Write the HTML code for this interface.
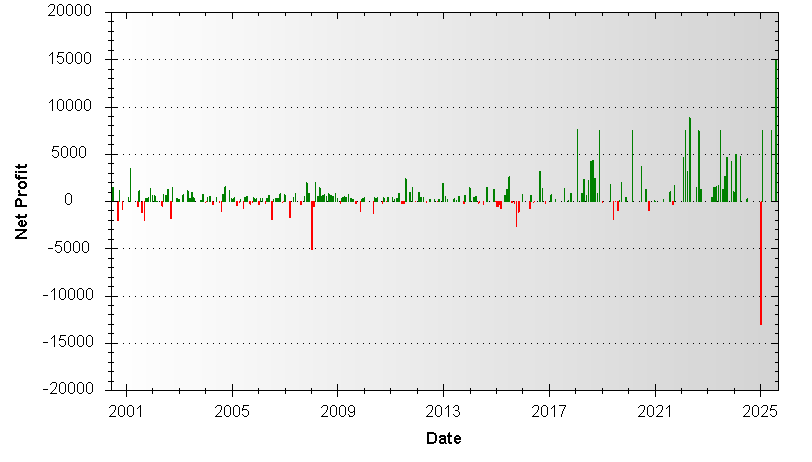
<!DOCTYPE html>
<html><head><meta charset="utf-8"><title>chart</title>
<style>
html,body{margin:0;padding:0;background:#fff;}
body{width:812px;height:462px;position:relative;overflow:hidden;font-family:"Liberation Sans",sans-serif;color:#000;}
svg{position:absolute;left:0;top:0;}
.t{color:transparent;}
.yl{position:absolute;left:39.6px;letter-spacing:0.15px;width:60px;text-align:center;font-size:16px;line-height:18px;height:18px;white-space:nowrap;}
.xl{position:absolute;top:403px;letter-spacing:0.15px;width:60px;text-align:center;font-size:16px;line-height:18px;height:18px;}
.xt{position:absolute;left:414.3px;top:430px;letter-spacing:0.3px;width:60px;text-align:center;font-weight:bold;font-size:16px;line-height:18px;}
.yt{position:absolute;left:-37px;top:194px;letter-spacing:0.45px;width:120px;height:18px;text-align:center;font-weight:bold;font-size:16px;line-height:18px;transform:rotate(-90deg);transform-origin:50% 50%;white-space:nowrap;}
</style></head><body>
<svg width="812" height="462" viewBox="0 0 812 462" shape-rendering="crispEdges">
<rect x="111" y="12" width="7" height="379" fill="rgb(255,255,255)"/>
<rect x="118" y="12" width="14" height="379" fill="rgb(254,254,254)"/>
<rect x="132" y="12" width="14" height="379" fill="rgb(253,253,253)"/>
<rect x="146" y="12" width="14" height="379" fill="rgb(252,252,252)"/>
<rect x="160" y="12" width="14" height="379" fill="rgb(251,251,251)"/>
<rect x="174" y="12" width="28" height="379" fill="rgb(250,250,250)"/>
<rect x="202" y="12" width="14" height="379" fill="rgb(249,249,249)"/>
<rect x="216" y="12" width="14" height="379" fill="rgb(248,248,248)"/>
<rect x="230" y="12" width="14" height="379" fill="rgb(247,247,247)"/>
<rect x="244" y="12" width="13" height="379" fill="rgb(246,246,246)"/>
<rect x="257" y="12" width="14" height="379" fill="rgb(245,245,245)"/>
<rect x="271" y="12" width="14" height="379" fill="rgb(244,244,244)"/>
<rect x="285" y="12" width="14" height="379" fill="rgb(243,243,243)"/>
<rect x="299" y="12" width="14" height="379" fill="rgb(242,242,242)"/>
<rect x="313" y="12" width="14" height="379" fill="rgb(241,241,241)"/>
<rect x="327" y="12" width="14" height="379" fill="rgb(240,240,240)"/>
<rect x="341" y="12" width="14" height="379" fill="rgb(239,239,239)"/>
<rect x="355" y="12" width="28" height="379" fill="rgb(238,238,238)"/>
<rect x="383" y="12" width="13" height="379" fill="rgb(237,237,237)"/>
<rect x="396" y="12" width="14" height="379" fill="rgb(236,236,236)"/>
<rect x="410" y="12" width="14" height="379" fill="rgb(235,235,235)"/>
<rect x="424" y="12" width="14" height="379" fill="rgb(234,234,234)"/>
<rect x="438" y="12" width="14" height="379" fill="rgb(233,233,233)"/>
<rect x="452" y="12" width="14" height="379" fill="rgb(232,232,232)"/>
<rect x="466" y="12" width="14" height="379" fill="rgb(231,231,231)"/>
<rect x="480" y="12" width="14" height="379" fill="rgb(230,230,230)"/>
<rect x="494" y="12" width="14" height="379" fill="rgb(229,229,229)"/>
<rect x="508" y="12" width="27" height="379" fill="rgb(228,228,228)"/>
<rect x="535" y="12" width="14" height="379" fill="rgb(227,227,227)"/>
<rect x="549" y="12" width="14" height="379" fill="rgb(226,226,226)"/>
<rect x="563" y="12" width="14" height="379" fill="rgb(225,225,225)"/>
<rect x="577" y="12" width="14" height="379" fill="rgb(224,224,224)"/>
<rect x="591" y="12" width="14" height="379" fill="rgb(223,223,223)"/>
<rect x="605" y="12" width="14" height="379" fill="rgb(222,222,222)"/>
<rect x="619" y="12" width="14" height="379" fill="rgb(221,221,221)"/>
<rect x="633" y="12" width="14" height="379" fill="rgb(220,220,220)"/>
<rect x="647" y="12" width="13" height="379" fill="rgb(219,219,219)"/>
<rect x="660" y="12" width="14" height="379" fill="rgb(218,218,218)"/>
<rect x="674" y="12" width="14" height="379" fill="rgb(217,217,217)"/>
<rect x="688" y="12" width="28" height="379" fill="rgb(216,216,216)"/>
<rect x="716" y="12" width="14" height="379" fill="rgb(215,215,215)"/>
<rect x="730" y="12" width="14" height="379" fill="rgb(214,214,214)"/>
<rect x="744" y="12" width="14" height="379" fill="rgb(213,213,213)"/>
<rect x="758" y="12" width="14" height="379" fill="rgb(212,212,212)"/>
<rect x="772" y="12" width="7" height="379" fill="rgb(211,211,211)"/>
<rect x="123" y="59" width="1" height="1" fill="#000"/>
<rect x="129" y="59" width="1" height="1" fill="#000"/>
<rect x="135" y="59" width="1" height="1" fill="#000"/>
<rect x="141" y="59" width="1" height="1" fill="#000"/>
<rect x="147" y="59" width="1" height="1" fill="#000"/>
<rect x="153" y="59" width="1" height="1" fill="#000"/>
<rect x="159" y="59" width="1" height="1" fill="#000"/>
<rect x="165" y="59" width="1" height="1" fill="#000"/>
<rect x="171" y="59" width="1" height="1" fill="#000"/>
<rect x="177" y="59" width="1" height="1" fill="#000"/>
<rect x="183" y="59" width="1" height="1" fill="#000"/>
<rect x="189" y="59" width="1" height="1" fill="#000"/>
<rect x="195" y="59" width="1" height="1" fill="#000"/>
<rect x="201" y="59" width="1" height="1" fill="#000"/>
<rect x="207" y="59" width="1" height="1" fill="#000"/>
<rect x="213" y="59" width="1" height="1" fill="#000"/>
<rect x="219" y="59" width="1" height="1" fill="#000"/>
<rect x="225" y="59" width="1" height="1" fill="#000"/>
<rect x="231" y="59" width="1" height="1" fill="#000"/>
<rect x="237" y="59" width="1" height="1" fill="#000"/>
<rect x="243" y="59" width="1" height="1" fill="#000"/>
<rect x="249" y="59" width="1" height="1" fill="#000"/>
<rect x="255" y="59" width="1" height="1" fill="#000"/>
<rect x="261" y="59" width="1" height="1" fill="#000"/>
<rect x="267" y="59" width="1" height="1" fill="#000"/>
<rect x="273" y="59" width="1" height="1" fill="#000"/>
<rect x="279" y="59" width="1" height="1" fill="#000"/>
<rect x="285" y="59" width="1" height="1" fill="#000"/>
<rect x="291" y="59" width="1" height="1" fill="#000"/>
<rect x="297" y="59" width="1" height="1" fill="#000"/>
<rect x="303" y="59" width="1" height="1" fill="#000"/>
<rect x="309" y="59" width="1" height="1" fill="#000"/>
<rect x="315" y="59" width="1" height="1" fill="#000"/>
<rect x="321" y="59" width="1" height="1" fill="#000"/>
<rect x="327" y="59" width="1" height="1" fill="#000"/>
<rect x="333" y="59" width="1" height="1" fill="#000"/>
<rect x="339" y="59" width="1" height="1" fill="#000"/>
<rect x="345" y="59" width="1" height="1" fill="#000"/>
<rect x="351" y="59" width="1" height="1" fill="#000"/>
<rect x="357" y="59" width="1" height="1" fill="#000"/>
<rect x="363" y="59" width="1" height="1" fill="#000"/>
<rect x="369" y="59" width="1" height="1" fill="#000"/>
<rect x="375" y="59" width="1" height="1" fill="#000"/>
<rect x="381" y="59" width="1" height="1" fill="#000"/>
<rect x="387" y="59" width="1" height="1" fill="#000"/>
<rect x="393" y="59" width="1" height="1" fill="#000"/>
<rect x="399" y="59" width="1" height="1" fill="#000"/>
<rect x="405" y="59" width="1" height="1" fill="#000"/>
<rect x="411" y="59" width="1" height="1" fill="#000"/>
<rect x="417" y="59" width="1" height="1" fill="#000"/>
<rect x="423" y="59" width="1" height="1" fill="#000"/>
<rect x="429" y="59" width="1" height="1" fill="#000"/>
<rect x="435" y="59" width="1" height="1" fill="#000"/>
<rect x="441" y="59" width="1" height="1" fill="#000"/>
<rect x="447" y="59" width="1" height="1" fill="#000"/>
<rect x="453" y="59" width="1" height="1" fill="#000"/>
<rect x="459" y="59" width="1" height="1" fill="#000"/>
<rect x="465" y="59" width="1" height="1" fill="#000"/>
<rect x="471" y="59" width="1" height="1" fill="#000"/>
<rect x="477" y="59" width="1" height="1" fill="#000"/>
<rect x="483" y="59" width="1" height="1" fill="#000"/>
<rect x="489" y="59" width="1" height="1" fill="#000"/>
<rect x="495" y="59" width="1" height="1" fill="#000"/>
<rect x="501" y="59" width="1" height="1" fill="#000"/>
<rect x="507" y="59" width="1" height="1" fill="#000"/>
<rect x="513" y="59" width="1" height="1" fill="#000"/>
<rect x="519" y="59" width="1" height="1" fill="#000"/>
<rect x="525" y="59" width="1" height="1" fill="#000"/>
<rect x="531" y="59" width="1" height="1" fill="#000"/>
<rect x="537" y="59" width="1" height="1" fill="#000"/>
<rect x="543" y="59" width="1" height="1" fill="#000"/>
<rect x="549" y="59" width="1" height="1" fill="#000"/>
<rect x="555" y="59" width="1" height="1" fill="#000"/>
<rect x="561" y="59" width="1" height="1" fill="#000"/>
<rect x="567" y="59" width="1" height="1" fill="#000"/>
<rect x="573" y="59" width="1" height="1" fill="#000"/>
<rect x="579" y="59" width="1" height="1" fill="#000"/>
<rect x="585" y="59" width="1" height="1" fill="#000"/>
<rect x="591" y="59" width="1" height="1" fill="#000"/>
<rect x="597" y="59" width="1" height="1" fill="#000"/>
<rect x="603" y="59" width="1" height="1" fill="#000"/>
<rect x="609" y="59" width="1" height="1" fill="#000"/>
<rect x="615" y="59" width="1" height="1" fill="#000"/>
<rect x="621" y="59" width="1" height="1" fill="#000"/>
<rect x="627" y="59" width="1" height="1" fill="#000"/>
<rect x="633" y="59" width="1" height="1" fill="#000"/>
<rect x="639" y="59" width="1" height="1" fill="#000"/>
<rect x="645" y="59" width="1" height="1" fill="#000"/>
<rect x="651" y="59" width="1" height="1" fill="#000"/>
<rect x="657" y="59" width="1" height="1" fill="#000"/>
<rect x="663" y="59" width="1" height="1" fill="#000"/>
<rect x="669" y="59" width="1" height="1" fill="#000"/>
<rect x="675" y="59" width="1" height="1" fill="#000"/>
<rect x="681" y="59" width="1" height="1" fill="#000"/>
<rect x="687" y="59" width="1" height="1" fill="#000"/>
<rect x="693" y="59" width="1" height="1" fill="#000"/>
<rect x="699" y="59" width="1" height="1" fill="#000"/>
<rect x="705" y="59" width="1" height="1" fill="#000"/>
<rect x="711" y="59" width="1" height="1" fill="#000"/>
<rect x="717" y="59" width="1" height="1" fill="#000"/>
<rect x="723" y="59" width="1" height="1" fill="#000"/>
<rect x="729" y="59" width="1" height="1" fill="#000"/>
<rect x="735" y="59" width="1" height="1" fill="#000"/>
<rect x="741" y="59" width="1" height="1" fill="#000"/>
<rect x="747" y="59" width="1" height="1" fill="#000"/>
<rect x="753" y="59" width="1" height="1" fill="#000"/>
<rect x="759" y="59" width="1" height="1" fill="#000"/>
<rect x="765" y="59" width="1" height="1" fill="#000"/>
<rect x="771" y="59" width="1" height="1" fill="#000"/>
<rect x="777" y="59" width="1" height="1" fill="#000"/>
<rect x="123" y="107" width="1" height="1" fill="#000"/>
<rect x="129" y="107" width="1" height="1" fill="#000"/>
<rect x="135" y="107" width="1" height="1" fill="#000"/>
<rect x="141" y="107" width="1" height="1" fill="#000"/>
<rect x="147" y="107" width="1" height="1" fill="#000"/>
<rect x="153" y="107" width="1" height="1" fill="#000"/>
<rect x="159" y="107" width="1" height="1" fill="#000"/>
<rect x="165" y="107" width="1" height="1" fill="#000"/>
<rect x="171" y="107" width="1" height="1" fill="#000"/>
<rect x="177" y="107" width="1" height="1" fill="#000"/>
<rect x="183" y="107" width="1" height="1" fill="#000"/>
<rect x="189" y="107" width="1" height="1" fill="#000"/>
<rect x="195" y="107" width="1" height="1" fill="#000"/>
<rect x="201" y="107" width="1" height="1" fill="#000"/>
<rect x="207" y="107" width="1" height="1" fill="#000"/>
<rect x="213" y="107" width="1" height="1" fill="#000"/>
<rect x="219" y="107" width="1" height="1" fill="#000"/>
<rect x="225" y="107" width="1" height="1" fill="#000"/>
<rect x="231" y="107" width="1" height="1" fill="#000"/>
<rect x="237" y="107" width="1" height="1" fill="#000"/>
<rect x="243" y="107" width="1" height="1" fill="#000"/>
<rect x="249" y="107" width="1" height="1" fill="#000"/>
<rect x="255" y="107" width="1" height="1" fill="#000"/>
<rect x="261" y="107" width="1" height="1" fill="#000"/>
<rect x="267" y="107" width="1" height="1" fill="#000"/>
<rect x="273" y="107" width="1" height="1" fill="#000"/>
<rect x="279" y="107" width="1" height="1" fill="#000"/>
<rect x="285" y="107" width="1" height="1" fill="#000"/>
<rect x="291" y="107" width="1" height="1" fill="#000"/>
<rect x="297" y="107" width="1" height="1" fill="#000"/>
<rect x="303" y="107" width="1" height="1" fill="#000"/>
<rect x="309" y="107" width="1" height="1" fill="#000"/>
<rect x="315" y="107" width="1" height="1" fill="#000"/>
<rect x="321" y="107" width="1" height="1" fill="#000"/>
<rect x="327" y="107" width="1" height="1" fill="#000"/>
<rect x="333" y="107" width="1" height="1" fill="#000"/>
<rect x="339" y="107" width="1" height="1" fill="#000"/>
<rect x="345" y="107" width="1" height="1" fill="#000"/>
<rect x="351" y="107" width="1" height="1" fill="#000"/>
<rect x="357" y="107" width="1" height="1" fill="#000"/>
<rect x="363" y="107" width="1" height="1" fill="#000"/>
<rect x="369" y="107" width="1" height="1" fill="#000"/>
<rect x="375" y="107" width="1" height="1" fill="#000"/>
<rect x="381" y="107" width="1" height="1" fill="#000"/>
<rect x="387" y="107" width="1" height="1" fill="#000"/>
<rect x="393" y="107" width="1" height="1" fill="#000"/>
<rect x="399" y="107" width="1" height="1" fill="#000"/>
<rect x="405" y="107" width="1" height="1" fill="#000"/>
<rect x="411" y="107" width="1" height="1" fill="#000"/>
<rect x="417" y="107" width="1" height="1" fill="#000"/>
<rect x="423" y="107" width="1" height="1" fill="#000"/>
<rect x="429" y="107" width="1" height="1" fill="#000"/>
<rect x="435" y="107" width="1" height="1" fill="#000"/>
<rect x="441" y="107" width="1" height="1" fill="#000"/>
<rect x="447" y="107" width="1" height="1" fill="#000"/>
<rect x="453" y="107" width="1" height="1" fill="#000"/>
<rect x="459" y="107" width="1" height="1" fill="#000"/>
<rect x="465" y="107" width="1" height="1" fill="#000"/>
<rect x="471" y="107" width="1" height="1" fill="#000"/>
<rect x="477" y="107" width="1" height="1" fill="#000"/>
<rect x="483" y="107" width="1" height="1" fill="#000"/>
<rect x="489" y="107" width="1" height="1" fill="#000"/>
<rect x="495" y="107" width="1" height="1" fill="#000"/>
<rect x="501" y="107" width="1" height="1" fill="#000"/>
<rect x="507" y="107" width="1" height="1" fill="#000"/>
<rect x="513" y="107" width="1" height="1" fill="#000"/>
<rect x="519" y="107" width="1" height="1" fill="#000"/>
<rect x="525" y="107" width="1" height="1" fill="#000"/>
<rect x="531" y="107" width="1" height="1" fill="#000"/>
<rect x="537" y="107" width="1" height="1" fill="#000"/>
<rect x="543" y="107" width="1" height="1" fill="#000"/>
<rect x="549" y="107" width="1" height="1" fill="#000"/>
<rect x="555" y="107" width="1" height="1" fill="#000"/>
<rect x="561" y="107" width="1" height="1" fill="#000"/>
<rect x="567" y="107" width="1" height="1" fill="#000"/>
<rect x="573" y="107" width="1" height="1" fill="#000"/>
<rect x="579" y="107" width="1" height="1" fill="#000"/>
<rect x="585" y="107" width="1" height="1" fill="#000"/>
<rect x="591" y="107" width="1" height="1" fill="#000"/>
<rect x="597" y="107" width="1" height="1" fill="#000"/>
<rect x="603" y="107" width="1" height="1" fill="#000"/>
<rect x="609" y="107" width="1" height="1" fill="#000"/>
<rect x="615" y="107" width="1" height="1" fill="#000"/>
<rect x="621" y="107" width="1" height="1" fill="#000"/>
<rect x="627" y="107" width="1" height="1" fill="#000"/>
<rect x="633" y="107" width="1" height="1" fill="#000"/>
<rect x="639" y="107" width="1" height="1" fill="#000"/>
<rect x="645" y="107" width="1" height="1" fill="#000"/>
<rect x="651" y="107" width="1" height="1" fill="#000"/>
<rect x="657" y="107" width="1" height="1" fill="#000"/>
<rect x="663" y="107" width="1" height="1" fill="#000"/>
<rect x="669" y="107" width="1" height="1" fill="#000"/>
<rect x="675" y="107" width="1" height="1" fill="#000"/>
<rect x="681" y="107" width="1" height="1" fill="#000"/>
<rect x="687" y="107" width="1" height="1" fill="#000"/>
<rect x="693" y="107" width="1" height="1" fill="#000"/>
<rect x="699" y="107" width="1" height="1" fill="#000"/>
<rect x="705" y="107" width="1" height="1" fill="#000"/>
<rect x="711" y="107" width="1" height="1" fill="#000"/>
<rect x="717" y="107" width="1" height="1" fill="#000"/>
<rect x="723" y="107" width="1" height="1" fill="#000"/>
<rect x="729" y="107" width="1" height="1" fill="#000"/>
<rect x="735" y="107" width="1" height="1" fill="#000"/>
<rect x="741" y="107" width="1" height="1" fill="#000"/>
<rect x="747" y="107" width="1" height="1" fill="#000"/>
<rect x="753" y="107" width="1" height="1" fill="#000"/>
<rect x="759" y="107" width="1" height="1" fill="#000"/>
<rect x="765" y="107" width="1" height="1" fill="#000"/>
<rect x="771" y="107" width="1" height="1" fill="#000"/>
<rect x="777" y="107" width="1" height="1" fill="#000"/>
<rect x="123" y="154" width="1" height="1" fill="#000"/>
<rect x="129" y="154" width="1" height="1" fill="#000"/>
<rect x="135" y="154" width="1" height="1" fill="#000"/>
<rect x="141" y="154" width="1" height="1" fill="#000"/>
<rect x="147" y="154" width="1" height="1" fill="#000"/>
<rect x="153" y="154" width="1" height="1" fill="#000"/>
<rect x="159" y="154" width="1" height="1" fill="#000"/>
<rect x="165" y="154" width="1" height="1" fill="#000"/>
<rect x="171" y="154" width="1" height="1" fill="#000"/>
<rect x="177" y="154" width="1" height="1" fill="#000"/>
<rect x="183" y="154" width="1" height="1" fill="#000"/>
<rect x="189" y="154" width="1" height="1" fill="#000"/>
<rect x="195" y="154" width="1" height="1" fill="#000"/>
<rect x="201" y="154" width="1" height="1" fill="#000"/>
<rect x="207" y="154" width="1" height="1" fill="#000"/>
<rect x="213" y="154" width="1" height="1" fill="#000"/>
<rect x="219" y="154" width="1" height="1" fill="#000"/>
<rect x="225" y="154" width="1" height="1" fill="#000"/>
<rect x="231" y="154" width="1" height="1" fill="#000"/>
<rect x="237" y="154" width="1" height="1" fill="#000"/>
<rect x="243" y="154" width="1" height="1" fill="#000"/>
<rect x="249" y="154" width="1" height="1" fill="#000"/>
<rect x="255" y="154" width="1" height="1" fill="#000"/>
<rect x="261" y="154" width="1" height="1" fill="#000"/>
<rect x="267" y="154" width="1" height="1" fill="#000"/>
<rect x="273" y="154" width="1" height="1" fill="#000"/>
<rect x="279" y="154" width="1" height="1" fill="#000"/>
<rect x="285" y="154" width="1" height="1" fill="#000"/>
<rect x="291" y="154" width="1" height="1" fill="#000"/>
<rect x="297" y="154" width="1" height="1" fill="#000"/>
<rect x="303" y="154" width="1" height="1" fill="#000"/>
<rect x="309" y="154" width="1" height="1" fill="#000"/>
<rect x="315" y="154" width="1" height="1" fill="#000"/>
<rect x="321" y="154" width="1" height="1" fill="#000"/>
<rect x="327" y="154" width="1" height="1" fill="#000"/>
<rect x="333" y="154" width="1" height="1" fill="#000"/>
<rect x="339" y="154" width="1" height="1" fill="#000"/>
<rect x="345" y="154" width="1" height="1" fill="#000"/>
<rect x="351" y="154" width="1" height="1" fill="#000"/>
<rect x="357" y="154" width="1" height="1" fill="#000"/>
<rect x="363" y="154" width="1" height="1" fill="#000"/>
<rect x="369" y="154" width="1" height="1" fill="#000"/>
<rect x="375" y="154" width="1" height="1" fill="#000"/>
<rect x="381" y="154" width="1" height="1" fill="#000"/>
<rect x="387" y="154" width="1" height="1" fill="#000"/>
<rect x="393" y="154" width="1" height="1" fill="#000"/>
<rect x="399" y="154" width="1" height="1" fill="#000"/>
<rect x="405" y="154" width="1" height="1" fill="#000"/>
<rect x="411" y="154" width="1" height="1" fill="#000"/>
<rect x="417" y="154" width="1" height="1" fill="#000"/>
<rect x="423" y="154" width="1" height="1" fill="#000"/>
<rect x="429" y="154" width="1" height="1" fill="#000"/>
<rect x="435" y="154" width="1" height="1" fill="#000"/>
<rect x="441" y="154" width="1" height="1" fill="#000"/>
<rect x="447" y="154" width="1" height="1" fill="#000"/>
<rect x="453" y="154" width="1" height="1" fill="#000"/>
<rect x="459" y="154" width="1" height="1" fill="#000"/>
<rect x="465" y="154" width="1" height="1" fill="#000"/>
<rect x="471" y="154" width="1" height="1" fill="#000"/>
<rect x="477" y="154" width="1" height="1" fill="#000"/>
<rect x="483" y="154" width="1" height="1" fill="#000"/>
<rect x="489" y="154" width="1" height="1" fill="#000"/>
<rect x="495" y="154" width="1" height="1" fill="#000"/>
<rect x="501" y="154" width="1" height="1" fill="#000"/>
<rect x="507" y="154" width="1" height="1" fill="#000"/>
<rect x="513" y="154" width="1" height="1" fill="#000"/>
<rect x="519" y="154" width="1" height="1" fill="#000"/>
<rect x="525" y="154" width="1" height="1" fill="#000"/>
<rect x="531" y="154" width="1" height="1" fill="#000"/>
<rect x="537" y="154" width="1" height="1" fill="#000"/>
<rect x="543" y="154" width="1" height="1" fill="#000"/>
<rect x="549" y="154" width="1" height="1" fill="#000"/>
<rect x="555" y="154" width="1" height="1" fill="#000"/>
<rect x="561" y="154" width="1" height="1" fill="#000"/>
<rect x="567" y="154" width="1" height="1" fill="#000"/>
<rect x="573" y="154" width="1" height="1" fill="#000"/>
<rect x="579" y="154" width="1" height="1" fill="#000"/>
<rect x="585" y="154" width="1" height="1" fill="#000"/>
<rect x="591" y="154" width="1" height="1" fill="#000"/>
<rect x="597" y="154" width="1" height="1" fill="#000"/>
<rect x="603" y="154" width="1" height="1" fill="#000"/>
<rect x="609" y="154" width="1" height="1" fill="#000"/>
<rect x="615" y="154" width="1" height="1" fill="#000"/>
<rect x="621" y="154" width="1" height="1" fill="#000"/>
<rect x="627" y="154" width="1" height="1" fill="#000"/>
<rect x="633" y="154" width="1" height="1" fill="#000"/>
<rect x="639" y="154" width="1" height="1" fill="#000"/>
<rect x="645" y="154" width="1" height="1" fill="#000"/>
<rect x="651" y="154" width="1" height="1" fill="#000"/>
<rect x="657" y="154" width="1" height="1" fill="#000"/>
<rect x="663" y="154" width="1" height="1" fill="#000"/>
<rect x="669" y="154" width="1" height="1" fill="#000"/>
<rect x="675" y="154" width="1" height="1" fill="#000"/>
<rect x="681" y="154" width="1" height="1" fill="#000"/>
<rect x="687" y="154" width="1" height="1" fill="#000"/>
<rect x="693" y="154" width="1" height="1" fill="#000"/>
<rect x="699" y="154" width="1" height="1" fill="#000"/>
<rect x="705" y="154" width="1" height="1" fill="#000"/>
<rect x="711" y="154" width="1" height="1" fill="#000"/>
<rect x="717" y="154" width="1" height="1" fill="#000"/>
<rect x="723" y="154" width="1" height="1" fill="#000"/>
<rect x="729" y="154" width="1" height="1" fill="#000"/>
<rect x="735" y="154" width="1" height="1" fill="#000"/>
<rect x="741" y="154" width="1" height="1" fill="#000"/>
<rect x="747" y="154" width="1" height="1" fill="#000"/>
<rect x="753" y="154" width="1" height="1" fill="#000"/>
<rect x="759" y="154" width="1" height="1" fill="#000"/>
<rect x="765" y="154" width="1" height="1" fill="#000"/>
<rect x="771" y="154" width="1" height="1" fill="#000"/>
<rect x="777" y="154" width="1" height="1" fill="#000"/>
<rect x="123" y="201" width="1" height="1" fill="#000"/>
<rect x="129" y="201" width="1" height="1" fill="#000"/>
<rect x="135" y="201" width="1" height="1" fill="#000"/>
<rect x="141" y="201" width="1" height="1" fill="#000"/>
<rect x="147" y="201" width="1" height="1" fill="#000"/>
<rect x="153" y="201" width="1" height="1" fill="#000"/>
<rect x="159" y="201" width="1" height="1" fill="#000"/>
<rect x="165" y="201" width="1" height="1" fill="#000"/>
<rect x="171" y="201" width="1" height="1" fill="#000"/>
<rect x="177" y="201" width="1" height="1" fill="#000"/>
<rect x="183" y="201" width="1" height="1" fill="#000"/>
<rect x="189" y="201" width="1" height="1" fill="#000"/>
<rect x="195" y="201" width="1" height="1" fill="#000"/>
<rect x="201" y="201" width="1" height="1" fill="#000"/>
<rect x="207" y="201" width="1" height="1" fill="#000"/>
<rect x="213" y="201" width="1" height="1" fill="#000"/>
<rect x="219" y="201" width="1" height="1" fill="#000"/>
<rect x="225" y="201" width="1" height="1" fill="#000"/>
<rect x="231" y="201" width="1" height="1" fill="#000"/>
<rect x="237" y="201" width="1" height="1" fill="#000"/>
<rect x="243" y="201" width="1" height="1" fill="#000"/>
<rect x="249" y="201" width="1" height="1" fill="#000"/>
<rect x="255" y="201" width="1" height="1" fill="#000"/>
<rect x="261" y="201" width="1" height="1" fill="#000"/>
<rect x="267" y="201" width="1" height="1" fill="#000"/>
<rect x="273" y="201" width="1" height="1" fill="#000"/>
<rect x="279" y="201" width="1" height="1" fill="#000"/>
<rect x="285" y="201" width="1" height="1" fill="#000"/>
<rect x="291" y="201" width="1" height="1" fill="#000"/>
<rect x="297" y="201" width="1" height="1" fill="#000"/>
<rect x="303" y="201" width="1" height="1" fill="#000"/>
<rect x="309" y="201" width="1" height="1" fill="#000"/>
<rect x="315" y="201" width="1" height="1" fill="#000"/>
<rect x="321" y="201" width="1" height="1" fill="#000"/>
<rect x="327" y="201" width="1" height="1" fill="#000"/>
<rect x="333" y="201" width="1" height="1" fill="#000"/>
<rect x="339" y="201" width="1" height="1" fill="#000"/>
<rect x="345" y="201" width="1" height="1" fill="#000"/>
<rect x="351" y="201" width="1" height="1" fill="#000"/>
<rect x="357" y="201" width="1" height="1" fill="#000"/>
<rect x="363" y="201" width="1" height="1" fill="#000"/>
<rect x="369" y="201" width="1" height="1" fill="#000"/>
<rect x="375" y="201" width="1" height="1" fill="#000"/>
<rect x="381" y="201" width="1" height="1" fill="#000"/>
<rect x="387" y="201" width="1" height="1" fill="#000"/>
<rect x="393" y="201" width="1" height="1" fill="#000"/>
<rect x="399" y="201" width="1" height="1" fill="#000"/>
<rect x="405" y="201" width="1" height="1" fill="#000"/>
<rect x="411" y="201" width="1" height="1" fill="#000"/>
<rect x="417" y="201" width="1" height="1" fill="#000"/>
<rect x="423" y="201" width="1" height="1" fill="#000"/>
<rect x="429" y="201" width="1" height="1" fill="#000"/>
<rect x="435" y="201" width="1" height="1" fill="#000"/>
<rect x="441" y="201" width="1" height="1" fill="#000"/>
<rect x="447" y="201" width="1" height="1" fill="#000"/>
<rect x="453" y="201" width="1" height="1" fill="#000"/>
<rect x="459" y="201" width="1" height="1" fill="#000"/>
<rect x="465" y="201" width="1" height="1" fill="#000"/>
<rect x="471" y="201" width="1" height="1" fill="#000"/>
<rect x="477" y="201" width="1" height="1" fill="#000"/>
<rect x="483" y="201" width="1" height="1" fill="#000"/>
<rect x="489" y="201" width="1" height="1" fill="#000"/>
<rect x="495" y="201" width="1" height="1" fill="#000"/>
<rect x="501" y="201" width="1" height="1" fill="#000"/>
<rect x="507" y="201" width="1" height="1" fill="#000"/>
<rect x="513" y="201" width="1" height="1" fill="#000"/>
<rect x="519" y="201" width="1" height="1" fill="#000"/>
<rect x="525" y="201" width="1" height="1" fill="#000"/>
<rect x="531" y="201" width="1" height="1" fill="#000"/>
<rect x="537" y="201" width="1" height="1" fill="#000"/>
<rect x="543" y="201" width="1" height="1" fill="#000"/>
<rect x="549" y="201" width="1" height="1" fill="#000"/>
<rect x="555" y="201" width="1" height="1" fill="#000"/>
<rect x="561" y="201" width="1" height="1" fill="#000"/>
<rect x="567" y="201" width="1" height="1" fill="#000"/>
<rect x="573" y="201" width="1" height="1" fill="#000"/>
<rect x="579" y="201" width="1" height="1" fill="#000"/>
<rect x="585" y="201" width="1" height="1" fill="#000"/>
<rect x="591" y="201" width="1" height="1" fill="#000"/>
<rect x="597" y="201" width="1" height="1" fill="#000"/>
<rect x="603" y="201" width="1" height="1" fill="#000"/>
<rect x="609" y="201" width="1" height="1" fill="#000"/>
<rect x="615" y="201" width="1" height="1" fill="#000"/>
<rect x="621" y="201" width="1" height="1" fill="#000"/>
<rect x="627" y="201" width="1" height="1" fill="#000"/>
<rect x="633" y="201" width="1" height="1" fill="#000"/>
<rect x="639" y="201" width="1" height="1" fill="#000"/>
<rect x="645" y="201" width="1" height="1" fill="#000"/>
<rect x="651" y="201" width="1" height="1" fill="#000"/>
<rect x="657" y="201" width="1" height="1" fill="#000"/>
<rect x="663" y="201" width="1" height="1" fill="#000"/>
<rect x="669" y="201" width="1" height="1" fill="#000"/>
<rect x="675" y="201" width="1" height="1" fill="#000"/>
<rect x="681" y="201" width="1" height="1" fill="#000"/>
<rect x="687" y="201" width="1" height="1" fill="#000"/>
<rect x="693" y="201" width="1" height="1" fill="#000"/>
<rect x="699" y="201" width="1" height="1" fill="#000"/>
<rect x="705" y="201" width="1" height="1" fill="#000"/>
<rect x="711" y="201" width="1" height="1" fill="#000"/>
<rect x="717" y="201" width="1" height="1" fill="#000"/>
<rect x="723" y="201" width="1" height="1" fill="#000"/>
<rect x="729" y="201" width="1" height="1" fill="#000"/>
<rect x="735" y="201" width="1" height="1" fill="#000"/>
<rect x="741" y="201" width="1" height="1" fill="#000"/>
<rect x="747" y="201" width="1" height="1" fill="#000"/>
<rect x="753" y="201" width="1" height="1" fill="#000"/>
<rect x="759" y="201" width="1" height="1" fill="#000"/>
<rect x="765" y="201" width="1" height="1" fill="#000"/>
<rect x="771" y="201" width="1" height="1" fill="#000"/>
<rect x="777" y="201" width="1" height="1" fill="#000"/>
<rect x="123" y="248" width="1" height="1" fill="#000"/>
<rect x="129" y="248" width="1" height="1" fill="#000"/>
<rect x="135" y="248" width="1" height="1" fill="#000"/>
<rect x="141" y="248" width="1" height="1" fill="#000"/>
<rect x="147" y="248" width="1" height="1" fill="#000"/>
<rect x="153" y="248" width="1" height="1" fill="#000"/>
<rect x="159" y="248" width="1" height="1" fill="#000"/>
<rect x="165" y="248" width="1" height="1" fill="#000"/>
<rect x="171" y="248" width="1" height="1" fill="#000"/>
<rect x="177" y="248" width="1" height="1" fill="#000"/>
<rect x="183" y="248" width="1" height="1" fill="#000"/>
<rect x="189" y="248" width="1" height="1" fill="#000"/>
<rect x="195" y="248" width="1" height="1" fill="#000"/>
<rect x="201" y="248" width="1" height="1" fill="#000"/>
<rect x="207" y="248" width="1" height="1" fill="#000"/>
<rect x="213" y="248" width="1" height="1" fill="#000"/>
<rect x="219" y="248" width="1" height="1" fill="#000"/>
<rect x="225" y="248" width="1" height="1" fill="#000"/>
<rect x="231" y="248" width="1" height="1" fill="#000"/>
<rect x="237" y="248" width="1" height="1" fill="#000"/>
<rect x="243" y="248" width="1" height="1" fill="#000"/>
<rect x="249" y="248" width="1" height="1" fill="#000"/>
<rect x="255" y="248" width="1" height="1" fill="#000"/>
<rect x="261" y="248" width="1" height="1" fill="#000"/>
<rect x="267" y="248" width="1" height="1" fill="#000"/>
<rect x="273" y="248" width="1" height="1" fill="#000"/>
<rect x="279" y="248" width="1" height="1" fill="#000"/>
<rect x="285" y="248" width="1" height="1" fill="#000"/>
<rect x="291" y="248" width="1" height="1" fill="#000"/>
<rect x="297" y="248" width="1" height="1" fill="#000"/>
<rect x="303" y="248" width="1" height="1" fill="#000"/>
<rect x="309" y="248" width="1" height="1" fill="#000"/>
<rect x="315" y="248" width="1" height="1" fill="#000"/>
<rect x="321" y="248" width="1" height="1" fill="#000"/>
<rect x="327" y="248" width="1" height="1" fill="#000"/>
<rect x="333" y="248" width="1" height="1" fill="#000"/>
<rect x="339" y="248" width="1" height="1" fill="#000"/>
<rect x="345" y="248" width="1" height="1" fill="#000"/>
<rect x="351" y="248" width="1" height="1" fill="#000"/>
<rect x="357" y="248" width="1" height="1" fill="#000"/>
<rect x="363" y="248" width="1" height="1" fill="#000"/>
<rect x="369" y="248" width="1" height="1" fill="#000"/>
<rect x="375" y="248" width="1" height="1" fill="#000"/>
<rect x="381" y="248" width="1" height="1" fill="#000"/>
<rect x="387" y="248" width="1" height="1" fill="#000"/>
<rect x="393" y="248" width="1" height="1" fill="#000"/>
<rect x="399" y="248" width="1" height="1" fill="#000"/>
<rect x="405" y="248" width="1" height="1" fill="#000"/>
<rect x="411" y="248" width="1" height="1" fill="#000"/>
<rect x="417" y="248" width="1" height="1" fill="#000"/>
<rect x="423" y="248" width="1" height="1" fill="#000"/>
<rect x="429" y="248" width="1" height="1" fill="#000"/>
<rect x="435" y="248" width="1" height="1" fill="#000"/>
<rect x="441" y="248" width="1" height="1" fill="#000"/>
<rect x="447" y="248" width="1" height="1" fill="#000"/>
<rect x="453" y="248" width="1" height="1" fill="#000"/>
<rect x="459" y="248" width="1" height="1" fill="#000"/>
<rect x="465" y="248" width="1" height="1" fill="#000"/>
<rect x="471" y="248" width="1" height="1" fill="#000"/>
<rect x="477" y="248" width="1" height="1" fill="#000"/>
<rect x="483" y="248" width="1" height="1" fill="#000"/>
<rect x="489" y="248" width="1" height="1" fill="#000"/>
<rect x="495" y="248" width="1" height="1" fill="#000"/>
<rect x="501" y="248" width="1" height="1" fill="#000"/>
<rect x="507" y="248" width="1" height="1" fill="#000"/>
<rect x="513" y="248" width="1" height="1" fill="#000"/>
<rect x="519" y="248" width="1" height="1" fill="#000"/>
<rect x="525" y="248" width="1" height="1" fill="#000"/>
<rect x="531" y="248" width="1" height="1" fill="#000"/>
<rect x="537" y="248" width="1" height="1" fill="#000"/>
<rect x="543" y="248" width="1" height="1" fill="#000"/>
<rect x="549" y="248" width="1" height="1" fill="#000"/>
<rect x="555" y="248" width="1" height="1" fill="#000"/>
<rect x="561" y="248" width="1" height="1" fill="#000"/>
<rect x="567" y="248" width="1" height="1" fill="#000"/>
<rect x="573" y="248" width="1" height="1" fill="#000"/>
<rect x="579" y="248" width="1" height="1" fill="#000"/>
<rect x="585" y="248" width="1" height="1" fill="#000"/>
<rect x="591" y="248" width="1" height="1" fill="#000"/>
<rect x="597" y="248" width="1" height="1" fill="#000"/>
<rect x="603" y="248" width="1" height="1" fill="#000"/>
<rect x="609" y="248" width="1" height="1" fill="#000"/>
<rect x="615" y="248" width="1" height="1" fill="#000"/>
<rect x="621" y="248" width="1" height="1" fill="#000"/>
<rect x="627" y="248" width="1" height="1" fill="#000"/>
<rect x="633" y="248" width="1" height="1" fill="#000"/>
<rect x="639" y="248" width="1" height="1" fill="#000"/>
<rect x="645" y="248" width="1" height="1" fill="#000"/>
<rect x="651" y="248" width="1" height="1" fill="#000"/>
<rect x="657" y="248" width="1" height="1" fill="#000"/>
<rect x="663" y="248" width="1" height="1" fill="#000"/>
<rect x="669" y="248" width="1" height="1" fill="#000"/>
<rect x="675" y="248" width="1" height="1" fill="#000"/>
<rect x="681" y="248" width="1" height="1" fill="#000"/>
<rect x="687" y="248" width="1" height="1" fill="#000"/>
<rect x="693" y="248" width="1" height="1" fill="#000"/>
<rect x="699" y="248" width="1" height="1" fill="#000"/>
<rect x="705" y="248" width="1" height="1" fill="#000"/>
<rect x="711" y="248" width="1" height="1" fill="#000"/>
<rect x="717" y="248" width="1" height="1" fill="#000"/>
<rect x="723" y="248" width="1" height="1" fill="#000"/>
<rect x="729" y="248" width="1" height="1" fill="#000"/>
<rect x="735" y="248" width="1" height="1" fill="#000"/>
<rect x="741" y="248" width="1" height="1" fill="#000"/>
<rect x="747" y="248" width="1" height="1" fill="#000"/>
<rect x="753" y="248" width="1" height="1" fill="#000"/>
<rect x="759" y="248" width="1" height="1" fill="#000"/>
<rect x="765" y="248" width="1" height="1" fill="#000"/>
<rect x="771" y="248" width="1" height="1" fill="#000"/>
<rect x="777" y="248" width="1" height="1" fill="#000"/>
<rect x="123" y="296" width="1" height="1" fill="#000"/>
<rect x="129" y="296" width="1" height="1" fill="#000"/>
<rect x="135" y="296" width="1" height="1" fill="#000"/>
<rect x="141" y="296" width="1" height="1" fill="#000"/>
<rect x="147" y="296" width="1" height="1" fill="#000"/>
<rect x="153" y="296" width="1" height="1" fill="#000"/>
<rect x="159" y="296" width="1" height="1" fill="#000"/>
<rect x="165" y="296" width="1" height="1" fill="#000"/>
<rect x="171" y="296" width="1" height="1" fill="#000"/>
<rect x="177" y="296" width="1" height="1" fill="#000"/>
<rect x="183" y="296" width="1" height="1" fill="#000"/>
<rect x="189" y="296" width="1" height="1" fill="#000"/>
<rect x="195" y="296" width="1" height="1" fill="#000"/>
<rect x="201" y="296" width="1" height="1" fill="#000"/>
<rect x="207" y="296" width="1" height="1" fill="#000"/>
<rect x="213" y="296" width="1" height="1" fill="#000"/>
<rect x="219" y="296" width="1" height="1" fill="#000"/>
<rect x="225" y="296" width="1" height="1" fill="#000"/>
<rect x="231" y="296" width="1" height="1" fill="#000"/>
<rect x="237" y="296" width="1" height="1" fill="#000"/>
<rect x="243" y="296" width="1" height="1" fill="#000"/>
<rect x="249" y="296" width="1" height="1" fill="#000"/>
<rect x="255" y="296" width="1" height="1" fill="#000"/>
<rect x="261" y="296" width="1" height="1" fill="#000"/>
<rect x="267" y="296" width="1" height="1" fill="#000"/>
<rect x="273" y="296" width="1" height="1" fill="#000"/>
<rect x="279" y="296" width="1" height="1" fill="#000"/>
<rect x="285" y="296" width="1" height="1" fill="#000"/>
<rect x="291" y="296" width="1" height="1" fill="#000"/>
<rect x="297" y="296" width="1" height="1" fill="#000"/>
<rect x="303" y="296" width="1" height="1" fill="#000"/>
<rect x="309" y="296" width="1" height="1" fill="#000"/>
<rect x="315" y="296" width="1" height="1" fill="#000"/>
<rect x="321" y="296" width="1" height="1" fill="#000"/>
<rect x="327" y="296" width="1" height="1" fill="#000"/>
<rect x="333" y="296" width="1" height="1" fill="#000"/>
<rect x="339" y="296" width="1" height="1" fill="#000"/>
<rect x="345" y="296" width="1" height="1" fill="#000"/>
<rect x="351" y="296" width="1" height="1" fill="#000"/>
<rect x="357" y="296" width="1" height="1" fill="#000"/>
<rect x="363" y="296" width="1" height="1" fill="#000"/>
<rect x="369" y="296" width="1" height="1" fill="#000"/>
<rect x="375" y="296" width="1" height="1" fill="#000"/>
<rect x="381" y="296" width="1" height="1" fill="#000"/>
<rect x="387" y="296" width="1" height="1" fill="#000"/>
<rect x="393" y="296" width="1" height="1" fill="#000"/>
<rect x="399" y="296" width="1" height="1" fill="#000"/>
<rect x="405" y="296" width="1" height="1" fill="#000"/>
<rect x="411" y="296" width="1" height="1" fill="#000"/>
<rect x="417" y="296" width="1" height="1" fill="#000"/>
<rect x="423" y="296" width="1" height="1" fill="#000"/>
<rect x="429" y="296" width="1" height="1" fill="#000"/>
<rect x="435" y="296" width="1" height="1" fill="#000"/>
<rect x="441" y="296" width="1" height="1" fill="#000"/>
<rect x="447" y="296" width="1" height="1" fill="#000"/>
<rect x="453" y="296" width="1" height="1" fill="#000"/>
<rect x="459" y="296" width="1" height="1" fill="#000"/>
<rect x="465" y="296" width="1" height="1" fill="#000"/>
<rect x="471" y="296" width="1" height="1" fill="#000"/>
<rect x="477" y="296" width="1" height="1" fill="#000"/>
<rect x="483" y="296" width="1" height="1" fill="#000"/>
<rect x="489" y="296" width="1" height="1" fill="#000"/>
<rect x="495" y="296" width="1" height="1" fill="#000"/>
<rect x="501" y="296" width="1" height="1" fill="#000"/>
<rect x="507" y="296" width="1" height="1" fill="#000"/>
<rect x="513" y="296" width="1" height="1" fill="#000"/>
<rect x="519" y="296" width="1" height="1" fill="#000"/>
<rect x="525" y="296" width="1" height="1" fill="#000"/>
<rect x="531" y="296" width="1" height="1" fill="#000"/>
<rect x="537" y="296" width="1" height="1" fill="#000"/>
<rect x="543" y="296" width="1" height="1" fill="#000"/>
<rect x="549" y="296" width="1" height="1" fill="#000"/>
<rect x="555" y="296" width="1" height="1" fill="#000"/>
<rect x="561" y="296" width="1" height="1" fill="#000"/>
<rect x="567" y="296" width="1" height="1" fill="#000"/>
<rect x="573" y="296" width="1" height="1" fill="#000"/>
<rect x="579" y="296" width="1" height="1" fill="#000"/>
<rect x="585" y="296" width="1" height="1" fill="#000"/>
<rect x="591" y="296" width="1" height="1" fill="#000"/>
<rect x="597" y="296" width="1" height="1" fill="#000"/>
<rect x="603" y="296" width="1" height="1" fill="#000"/>
<rect x="609" y="296" width="1" height="1" fill="#000"/>
<rect x="615" y="296" width="1" height="1" fill="#000"/>
<rect x="621" y="296" width="1" height="1" fill="#000"/>
<rect x="627" y="296" width="1" height="1" fill="#000"/>
<rect x="633" y="296" width="1" height="1" fill="#000"/>
<rect x="639" y="296" width="1" height="1" fill="#000"/>
<rect x="645" y="296" width="1" height="1" fill="#000"/>
<rect x="651" y="296" width="1" height="1" fill="#000"/>
<rect x="657" y="296" width="1" height="1" fill="#000"/>
<rect x="663" y="296" width="1" height="1" fill="#000"/>
<rect x="669" y="296" width="1" height="1" fill="#000"/>
<rect x="675" y="296" width="1" height="1" fill="#000"/>
<rect x="681" y="296" width="1" height="1" fill="#000"/>
<rect x="687" y="296" width="1" height="1" fill="#000"/>
<rect x="693" y="296" width="1" height="1" fill="#000"/>
<rect x="699" y="296" width="1" height="1" fill="#000"/>
<rect x="705" y="296" width="1" height="1" fill="#000"/>
<rect x="711" y="296" width="1" height="1" fill="#000"/>
<rect x="717" y="296" width="1" height="1" fill="#000"/>
<rect x="723" y="296" width="1" height="1" fill="#000"/>
<rect x="729" y="296" width="1" height="1" fill="#000"/>
<rect x="735" y="296" width="1" height="1" fill="#000"/>
<rect x="741" y="296" width="1" height="1" fill="#000"/>
<rect x="747" y="296" width="1" height="1" fill="#000"/>
<rect x="753" y="296" width="1" height="1" fill="#000"/>
<rect x="759" y="296" width="1" height="1" fill="#000"/>
<rect x="765" y="296" width="1" height="1" fill="#000"/>
<rect x="771" y="296" width="1" height="1" fill="#000"/>
<rect x="777" y="296" width="1" height="1" fill="#000"/>
<rect x="123" y="343" width="1" height="1" fill="#000"/>
<rect x="129" y="343" width="1" height="1" fill="#000"/>
<rect x="135" y="343" width="1" height="1" fill="#000"/>
<rect x="141" y="343" width="1" height="1" fill="#000"/>
<rect x="147" y="343" width="1" height="1" fill="#000"/>
<rect x="153" y="343" width="1" height="1" fill="#000"/>
<rect x="159" y="343" width="1" height="1" fill="#000"/>
<rect x="165" y="343" width="1" height="1" fill="#000"/>
<rect x="171" y="343" width="1" height="1" fill="#000"/>
<rect x="177" y="343" width="1" height="1" fill="#000"/>
<rect x="183" y="343" width="1" height="1" fill="#000"/>
<rect x="189" y="343" width="1" height="1" fill="#000"/>
<rect x="195" y="343" width="1" height="1" fill="#000"/>
<rect x="201" y="343" width="1" height="1" fill="#000"/>
<rect x="207" y="343" width="1" height="1" fill="#000"/>
<rect x="213" y="343" width="1" height="1" fill="#000"/>
<rect x="219" y="343" width="1" height="1" fill="#000"/>
<rect x="225" y="343" width="1" height="1" fill="#000"/>
<rect x="231" y="343" width="1" height="1" fill="#000"/>
<rect x="237" y="343" width="1" height="1" fill="#000"/>
<rect x="243" y="343" width="1" height="1" fill="#000"/>
<rect x="249" y="343" width="1" height="1" fill="#000"/>
<rect x="255" y="343" width="1" height="1" fill="#000"/>
<rect x="261" y="343" width="1" height="1" fill="#000"/>
<rect x="267" y="343" width="1" height="1" fill="#000"/>
<rect x="273" y="343" width="1" height="1" fill="#000"/>
<rect x="279" y="343" width="1" height="1" fill="#000"/>
<rect x="285" y="343" width="1" height="1" fill="#000"/>
<rect x="291" y="343" width="1" height="1" fill="#000"/>
<rect x="297" y="343" width="1" height="1" fill="#000"/>
<rect x="303" y="343" width="1" height="1" fill="#000"/>
<rect x="309" y="343" width="1" height="1" fill="#000"/>
<rect x="315" y="343" width="1" height="1" fill="#000"/>
<rect x="321" y="343" width="1" height="1" fill="#000"/>
<rect x="327" y="343" width="1" height="1" fill="#000"/>
<rect x="333" y="343" width="1" height="1" fill="#000"/>
<rect x="339" y="343" width="1" height="1" fill="#000"/>
<rect x="345" y="343" width="1" height="1" fill="#000"/>
<rect x="351" y="343" width="1" height="1" fill="#000"/>
<rect x="357" y="343" width="1" height="1" fill="#000"/>
<rect x="363" y="343" width="1" height="1" fill="#000"/>
<rect x="369" y="343" width="1" height="1" fill="#000"/>
<rect x="375" y="343" width="1" height="1" fill="#000"/>
<rect x="381" y="343" width="1" height="1" fill="#000"/>
<rect x="387" y="343" width="1" height="1" fill="#000"/>
<rect x="393" y="343" width="1" height="1" fill="#000"/>
<rect x="399" y="343" width="1" height="1" fill="#000"/>
<rect x="405" y="343" width="1" height="1" fill="#000"/>
<rect x="411" y="343" width="1" height="1" fill="#000"/>
<rect x="417" y="343" width="1" height="1" fill="#000"/>
<rect x="423" y="343" width="1" height="1" fill="#000"/>
<rect x="429" y="343" width="1" height="1" fill="#000"/>
<rect x="435" y="343" width="1" height="1" fill="#000"/>
<rect x="441" y="343" width="1" height="1" fill="#000"/>
<rect x="447" y="343" width="1" height="1" fill="#000"/>
<rect x="453" y="343" width="1" height="1" fill="#000"/>
<rect x="459" y="343" width="1" height="1" fill="#000"/>
<rect x="465" y="343" width="1" height="1" fill="#000"/>
<rect x="471" y="343" width="1" height="1" fill="#000"/>
<rect x="477" y="343" width="1" height="1" fill="#000"/>
<rect x="483" y="343" width="1" height="1" fill="#000"/>
<rect x="489" y="343" width="1" height="1" fill="#000"/>
<rect x="495" y="343" width="1" height="1" fill="#000"/>
<rect x="501" y="343" width="1" height="1" fill="#000"/>
<rect x="507" y="343" width="1" height="1" fill="#000"/>
<rect x="513" y="343" width="1" height="1" fill="#000"/>
<rect x="519" y="343" width="1" height="1" fill="#000"/>
<rect x="525" y="343" width="1" height="1" fill="#000"/>
<rect x="531" y="343" width="1" height="1" fill="#000"/>
<rect x="537" y="343" width="1" height="1" fill="#000"/>
<rect x="543" y="343" width="1" height="1" fill="#000"/>
<rect x="549" y="343" width="1" height="1" fill="#000"/>
<rect x="555" y="343" width="1" height="1" fill="#000"/>
<rect x="561" y="343" width="1" height="1" fill="#000"/>
<rect x="567" y="343" width="1" height="1" fill="#000"/>
<rect x="573" y="343" width="1" height="1" fill="#000"/>
<rect x="579" y="343" width="1" height="1" fill="#000"/>
<rect x="585" y="343" width="1" height="1" fill="#000"/>
<rect x="591" y="343" width="1" height="1" fill="#000"/>
<rect x="597" y="343" width="1" height="1" fill="#000"/>
<rect x="603" y="343" width="1" height="1" fill="#000"/>
<rect x="609" y="343" width="1" height="1" fill="#000"/>
<rect x="615" y="343" width="1" height="1" fill="#000"/>
<rect x="621" y="343" width="1" height="1" fill="#000"/>
<rect x="627" y="343" width="1" height="1" fill="#000"/>
<rect x="633" y="343" width="1" height="1" fill="#000"/>
<rect x="639" y="343" width="1" height="1" fill="#000"/>
<rect x="645" y="343" width="1" height="1" fill="#000"/>
<rect x="651" y="343" width="1" height="1" fill="#000"/>
<rect x="657" y="343" width="1" height="1" fill="#000"/>
<rect x="663" y="343" width="1" height="1" fill="#000"/>
<rect x="669" y="343" width="1" height="1" fill="#000"/>
<rect x="675" y="343" width="1" height="1" fill="#000"/>
<rect x="681" y="343" width="1" height="1" fill="#000"/>
<rect x="687" y="343" width="1" height="1" fill="#000"/>
<rect x="693" y="343" width="1" height="1" fill="#000"/>
<rect x="699" y="343" width="1" height="1" fill="#000"/>
<rect x="705" y="343" width="1" height="1" fill="#000"/>
<rect x="711" y="343" width="1" height="1" fill="#000"/>
<rect x="717" y="343" width="1" height="1" fill="#000"/>
<rect x="723" y="343" width="1" height="1" fill="#000"/>
<rect x="729" y="343" width="1" height="1" fill="#000"/>
<rect x="735" y="343" width="1" height="1" fill="#000"/>
<rect x="741" y="343" width="1" height="1" fill="#000"/>
<rect x="747" y="343" width="1" height="1" fill="#000"/>
<rect x="753" y="343" width="1" height="1" fill="#000"/>
<rect x="759" y="343" width="1" height="1" fill="#000"/>
<rect x="765" y="343" width="1" height="1" fill="#000"/>
<rect x="771" y="343" width="1" height="1" fill="#000"/>
<rect x="777" y="343" width="1" height="1" fill="#000"/>
<rect x="105" y="12" width="13" height="1" fill="#000"/>
<rect x="771" y="12" width="7" height="1" fill="#000"/>
<rect x="108" y="21" width="6" height="1" fill="#000"/>
<rect x="775" y="21" width="3" height="1" fill="#000"/>
<rect x="108" y="31" width="6" height="1" fill="#000"/>
<rect x="775" y="31" width="3" height="1" fill="#000"/>
<rect x="108" y="40" width="6" height="1" fill="#000"/>
<rect x="775" y="40" width="3" height="1" fill="#000"/>
<rect x="108" y="50" width="6" height="1" fill="#000"/>
<rect x="775" y="50" width="3" height="1" fill="#000"/>
<rect x="105" y="59" width="13" height="1" fill="#000"/>
<rect x="771" y="59" width="7" height="1" fill="#000"/>
<rect x="108" y="69" width="6" height="1" fill="#000"/>
<rect x="775" y="69" width="3" height="1" fill="#000"/>
<rect x="108" y="78" width="6" height="1" fill="#000"/>
<rect x="775" y="78" width="3" height="1" fill="#000"/>
<rect x="108" y="88" width="6" height="1" fill="#000"/>
<rect x="775" y="88" width="3" height="1" fill="#000"/>
<rect x="108" y="97" width="6" height="1" fill="#000"/>
<rect x="775" y="97" width="3" height="1" fill="#000"/>
<rect x="105" y="107" width="13" height="1" fill="#000"/>
<rect x="771" y="107" width="7" height="1" fill="#000"/>
<rect x="108" y="116" width="6" height="1" fill="#000"/>
<rect x="775" y="116" width="3" height="1" fill="#000"/>
<rect x="108" y="125" width="6" height="1" fill="#000"/>
<rect x="775" y="125" width="3" height="1" fill="#000"/>
<rect x="108" y="135" width="6" height="1" fill="#000"/>
<rect x="775" y="135" width="3" height="1" fill="#000"/>
<rect x="108" y="144" width="6" height="1" fill="#000"/>
<rect x="775" y="144" width="3" height="1" fill="#000"/>
<rect x="105" y="154" width="13" height="1" fill="#000"/>
<rect x="771" y="154" width="7" height="1" fill="#000"/>
<rect x="108" y="163" width="6" height="1" fill="#000"/>
<rect x="775" y="163" width="3" height="1" fill="#000"/>
<rect x="108" y="173" width="6" height="1" fill="#000"/>
<rect x="775" y="173" width="3" height="1" fill="#000"/>
<rect x="108" y="182" width="6" height="1" fill="#000"/>
<rect x="775" y="182" width="3" height="1" fill="#000"/>
<rect x="108" y="192" width="6" height="1" fill="#000"/>
<rect x="775" y="192" width="3" height="1" fill="#000"/>
<rect x="105" y="201" width="13" height="1" fill="#000"/>
<rect x="771" y="201" width="7" height="1" fill="#000"/>
<rect x="108" y="210" width="6" height="1" fill="#000"/>
<rect x="775" y="210" width="3" height="1" fill="#000"/>
<rect x="108" y="220" width="6" height="1" fill="#000"/>
<rect x="775" y="220" width="3" height="1" fill="#000"/>
<rect x="108" y="229" width="6" height="1" fill="#000"/>
<rect x="775" y="229" width="3" height="1" fill="#000"/>
<rect x="108" y="239" width="6" height="1" fill="#000"/>
<rect x="775" y="239" width="3" height="1" fill="#000"/>
<rect x="105" y="248" width="13" height="1" fill="#000"/>
<rect x="771" y="248" width="7" height="1" fill="#000"/>
<rect x="108" y="258" width="6" height="1" fill="#000"/>
<rect x="775" y="258" width="3" height="1" fill="#000"/>
<rect x="108" y="267" width="6" height="1" fill="#000"/>
<rect x="775" y="267" width="3" height="1" fill="#000"/>
<rect x="108" y="277" width="6" height="1" fill="#000"/>
<rect x="775" y="277" width="3" height="1" fill="#000"/>
<rect x="108" y="286" width="6" height="1" fill="#000"/>
<rect x="775" y="286" width="3" height="1" fill="#000"/>
<rect x="105" y="296" width="13" height="1" fill="#000"/>
<rect x="771" y="296" width="7" height="1" fill="#000"/>
<rect x="108" y="305" width="6" height="1" fill="#000"/>
<rect x="775" y="305" width="3" height="1" fill="#000"/>
<rect x="108" y="314" width="6" height="1" fill="#000"/>
<rect x="775" y="314" width="3" height="1" fill="#000"/>
<rect x="108" y="324" width="6" height="1" fill="#000"/>
<rect x="775" y="324" width="3" height="1" fill="#000"/>
<rect x="108" y="333" width="6" height="1" fill="#000"/>
<rect x="775" y="333" width="3" height="1" fill="#000"/>
<rect x="105" y="343" width="13" height="1" fill="#000"/>
<rect x="771" y="343" width="7" height="1" fill="#000"/>
<rect x="108" y="352" width="6" height="1" fill="#000"/>
<rect x="775" y="352" width="3" height="1" fill="#000"/>
<rect x="108" y="362" width="6" height="1" fill="#000"/>
<rect x="775" y="362" width="3" height="1" fill="#000"/>
<rect x="108" y="371" width="6" height="1" fill="#000"/>
<rect x="775" y="371" width="3" height="1" fill="#000"/>
<rect x="108" y="381" width="6" height="1" fill="#000"/>
<rect x="775" y="381" width="3" height="1" fill="#000"/>
<rect x="105" y="390" width="13" height="1" fill="#000"/>
<rect x="771" y="390" width="7" height="1" fill="#000"/>
<rect x="126" y="384" width="1" height="13" fill="#000"/>
<rect x="126" y="12" width="1" height="7" fill="#000"/>
<rect x="152" y="388" width="1" height="6" fill="#000"/>
<rect x="152" y="12" width="1" height="4" fill="#000"/>
<rect x="179" y="388" width="1" height="6" fill="#000"/>
<rect x="179" y="12" width="1" height="4" fill="#000"/>
<rect x="205" y="388" width="1" height="6" fill="#000"/>
<rect x="205" y="12" width="1" height="4" fill="#000"/>
<rect x="232" y="384" width="1" height="13" fill="#000"/>
<rect x="232" y="12" width="1" height="7" fill="#000"/>
<rect x="258" y="388" width="1" height="6" fill="#000"/>
<rect x="258" y="12" width="1" height="4" fill="#000"/>
<rect x="285" y="388" width="1" height="6" fill="#000"/>
<rect x="285" y="12" width="1" height="4" fill="#000"/>
<rect x="311" y="388" width="1" height="6" fill="#000"/>
<rect x="311" y="12" width="1" height="4" fill="#000"/>
<rect x="337" y="384" width="1" height="13" fill="#000"/>
<rect x="337" y="12" width="1" height="7" fill="#000"/>
<rect x="364" y="388" width="1" height="6" fill="#000"/>
<rect x="364" y="12" width="1" height="4" fill="#000"/>
<rect x="390" y="388" width="1" height="6" fill="#000"/>
<rect x="390" y="12" width="1" height="4" fill="#000"/>
<rect x="417" y="388" width="1" height="6" fill="#000"/>
<rect x="417" y="12" width="1" height="4" fill="#000"/>
<rect x="443" y="384" width="1" height="13" fill="#000"/>
<rect x="443" y="12" width="1" height="7" fill="#000"/>
<rect x="470" y="388" width="1" height="6" fill="#000"/>
<rect x="470" y="12" width="1" height="4" fill="#000"/>
<rect x="496" y="388" width="1" height="6" fill="#000"/>
<rect x="496" y="12" width="1" height="4" fill="#000"/>
<rect x="522" y="388" width="1" height="6" fill="#000"/>
<rect x="522" y="12" width="1" height="4" fill="#000"/>
<rect x="549" y="384" width="1" height="13" fill="#000"/>
<rect x="549" y="12" width="1" height="7" fill="#000"/>
<rect x="575" y="388" width="1" height="6" fill="#000"/>
<rect x="575" y="12" width="1" height="4" fill="#000"/>
<rect x="602" y="388" width="1" height="6" fill="#000"/>
<rect x="602" y="12" width="1" height="4" fill="#000"/>
<rect x="628" y="388" width="1" height="6" fill="#000"/>
<rect x="628" y="12" width="1" height="4" fill="#000"/>
<rect x="655" y="384" width="1" height="13" fill="#000"/>
<rect x="655" y="12" width="1" height="7" fill="#000"/>
<rect x="681" y="388" width="1" height="6" fill="#000"/>
<rect x="681" y="12" width="1" height="4" fill="#000"/>
<rect x="707" y="388" width="1" height="6" fill="#000"/>
<rect x="707" y="12" width="1" height="4" fill="#000"/>
<rect x="734" y="388" width="1" height="6" fill="#000"/>
<rect x="734" y="12" width="1" height="4" fill="#000"/>
<rect x="760" y="384" width="1" height="13" fill="#000"/>
<rect x="760" y="12" width="1" height="7" fill="#000"/>
<rect x="117" y="201" width="2" height="20" fill="#ff0000"/>
<rect x="122" y="201" width="1" height="9" fill="#ff0000"/>
<rect x="137" y="201" width="2" height="6" fill="#ff0000"/>
<rect x="141" y="202" width="1" height="11" fill="#ff0000"/>
<rect x="142" y="201" width="1" height="12" fill="#ff0000"/>
<rect x="144" y="201" width="1" height="20" fill="#ff0000"/>
<rect x="161" y="201" width="1" height="5" fill="#ff0000"/>
<rect x="162" y="201" width="1" height="6" fill="#ff0000"/>
<rect x="170" y="201" width="2" height="18" fill="#ff0000"/>
<rect x="205" y="202" width="1" height="1" fill="#ff0000"/>
<rect x="206" y="201" width="1" height="1" fill="#ff0000"/>
<rect x="212" y="201" width="1" height="4" fill="#ff0000"/>
<rect x="213" y="202" width="1" height="3" fill="#ff0000"/>
<rect x="219" y="201" width="1" height="2" fill="#ff0000"/>
<rect x="221" y="201" width="1" height="11" fill="#ff0000"/>
<rect x="236" y="201" width="2" height="5" fill="#ff0000"/>
<rect x="239" y="201" width="1" height="2" fill="#ff0000"/>
<rect x="243" y="201" width="1" height="8" fill="#ff0000"/>
<rect x="249" y="201" width="1" height="3" fill="#ff0000"/>
<rect x="250" y="201" width="1" height="4" fill="#ff0000"/>
<rect x="252" y="201" width="1" height="2" fill="#ff0000"/>
<rect x="258" y="201" width="2" height="4" fill="#ff0000"/>
<rect x="265" y="201" width="1" height="3" fill="#ff0000"/>
<rect x="271" y="201" width="2" height="19" fill="#ff0000"/>
<rect x="282" y="202" width="1" height="1" fill="#ff0000"/>
<rect x="283" y="201" width="1" height="1" fill="#ff0000"/>
<rect x="289" y="201" width="2" height="17" fill="#ff0000"/>
<rect x="300" y="201" width="2" height="4" fill="#ff0000"/>
<rect x="311" y="201" width="2" height="49" fill="#ff0000"/>
<rect x="313" y="201" width="2" height="6" fill="#ff0000"/>
<rect x="340" y="201" width="1" height="3" fill="#ff0000"/>
<rect x="355" y="201" width="2" height="3" fill="#ff0000"/>
<rect x="360" y="201" width="1" height="11" fill="#ff0000"/>
<rect x="373" y="201" width="1" height="13" fill="#ff0000"/>
<rect x="382" y="201" width="1" height="3" fill="#ff0000"/>
<rect x="386" y="201" width="1" height="1" fill="#ff0000"/>
<rect x="401" y="201" width="4" height="3" fill="#ff0000"/>
<rect x="415" y="201" width="1" height="1" fill="#ff0000"/>
<rect x="426" y="201" width="1" height="2" fill="#ff0000"/>
<rect x="437" y="201" width="1" height="1" fill="#ff0000"/>
<rect x="463" y="201" width="2" height="3" fill="#ff0000"/>
<rect x="478" y="202" width="1" height="2" fill="#ff0000"/>
<rect x="479" y="201" width="1" height="2" fill="#ff0000"/>
<rect x="483" y="201" width="1" height="4" fill="#ff0000"/>
<rect x="495" y="201" width="1" height="1" fill="#ff0000"/>
<rect x="496" y="201" width="3" height="6" fill="#ff0000"/>
<rect x="499" y="201" width="1" height="4" fill="#ff0000"/>
<rect x="500" y="201" width="2" height="8" fill="#ff0000"/>
<rect x="511" y="201" width="2" height="2" fill="#ff0000"/>
<rect x="514" y="201" width="1" height="3" fill="#ff0000"/>
<rect x="516" y="201" width="1" height="26" fill="#ff0000"/>
<rect x="518" y="201" width="1" height="12" fill="#ff0000"/>
<rect x="519" y="201" width="1" height="11" fill="#ff0000"/>
<rect x="529" y="201" width="2" height="8" fill="#ff0000"/>
<rect x="533" y="202" width="1" height="1" fill="#ff0000"/>
<rect x="534" y="201" width="1" height="1" fill="#ff0000"/>
<rect x="545" y="201" width="1" height="3" fill="#ff0000"/>
<rect x="602" y="201" width="1" height="2" fill="#ff0000"/>
<rect x="613" y="201" width="1" height="19" fill="#ff0000"/>
<rect x="615" y="201" width="1" height="1" fill="#ff0000"/>
<rect x="617" y="201" width="2" height="10" fill="#ff0000"/>
<rect x="648" y="201" width="2" height="10" fill="#ff0000"/>
<rect x="672" y="201" width="2" height="4" fill="#ff0000"/>
<rect x="760" y="202" width="1" height="123" fill="#ff0000"/>
<rect x="761" y="201" width="1" height="124" fill="#ff0000"/>
<rect x="112" y="187" width="2" height="15" fill="#008000"/>
<rect x="119" y="190" width="1" height="12" fill="#008000"/>
<rect x="128" y="197" width="1" height="5" fill="#008000"/>
<rect x="130" y="168" width="1" height="34" fill="#008000"/>
<rect x="138" y="191" width="1" height="11" fill="#008000"/>
<rect x="139" y="190" width="1" height="12" fill="#008000"/>
<rect x="145" y="198" width="2" height="4" fill="#008000"/>
<rect x="147" y="198" width="1" height="4" fill="#008000"/>
<rect x="148" y="197" width="1" height="5" fill="#008000"/>
<rect x="150" y="188" width="1" height="14" fill="#008000"/>
<rect x="152" y="195" width="1" height="7" fill="#008000"/>
<rect x="154" y="195" width="1" height="7" fill="#008000"/>
<rect x="155" y="196" width="1" height="6" fill="#008000"/>
<rect x="156" y="201" width="2" height="1" fill="#008000"/>
<rect x="163" y="194" width="1" height="8" fill="#008000"/>
<rect x="165" y="195" width="2" height="7" fill="#008000"/>
<rect x="167" y="189" width="2" height="13" fill="#008000"/>
<rect x="172" y="187" width="1" height="15" fill="#008000"/>
<rect x="176" y="198" width="2" height="4" fill="#008000"/>
<rect x="178" y="199" width="2" height="3" fill="#008000"/>
<rect x="182" y="195" width="1" height="7" fill="#008000"/>
<rect x="183" y="194" width="1" height="8" fill="#008000"/>
<rect x="187" y="190" width="1" height="12" fill="#008000"/>
<rect x="188" y="191" width="1" height="11" fill="#008000"/>
<rect x="189" y="198" width="2" height="4" fill="#008000"/>
<rect x="191" y="192" width="2" height="10" fill="#008000"/>
<rect x="193" y="197" width="1" height="5" fill="#008000"/>
<rect x="194" y="198" width="1" height="4" fill="#008000"/>
<rect x="200" y="200" width="2" height="2" fill="#008000"/>
<rect x="202" y="194" width="2" height="8" fill="#008000"/>
<rect x="207" y="197" width="1" height="5" fill="#008000"/>
<rect x="209" y="196" width="2" height="6" fill="#008000"/>
<rect x="216" y="197" width="1" height="5" fill="#008000"/>
<rect x="222" y="194" width="2" height="8" fill="#008000"/>
<rect x="224" y="187" width="1" height="15" fill="#008000"/>
<rect x="225" y="186" width="1" height="16" fill="#008000"/>
<rect x="229" y="190" width="1" height="12" fill="#008000"/>
<rect x="231" y="198" width="1" height="4" fill="#008000"/>
<rect x="232" y="199" width="1" height="3" fill="#008000"/>
<rect x="233" y="198" width="1" height="4" fill="#008000"/>
<rect x="234" y="197" width="1" height="5" fill="#008000"/>
<rect x="240" y="199" width="1" height="3" fill="#008000"/>
<rect x="244" y="197" width="2" height="5" fill="#008000"/>
<rect x="246" y="196" width="2" height="6" fill="#008000"/>
<rect x="253" y="197" width="1" height="5" fill="#008000"/>
<rect x="254" y="198" width="1" height="4" fill="#008000"/>
<rect x="255" y="199" width="1" height="3" fill="#008000"/>
<rect x="256" y="198" width="1" height="4" fill="#008000"/>
<rect x="260" y="198" width="1" height="4" fill="#008000"/>
<rect x="262" y="198" width="1" height="4" fill="#008000"/>
<rect x="266" y="198" width="2" height="4" fill="#008000"/>
<rect x="268" y="195" width="2" height="7" fill="#008000"/>
<rect x="273" y="199" width="1" height="3" fill="#008000"/>
<rect x="275" y="198" width="4" height="4" fill="#008000"/>
<rect x="279" y="194" width="1" height="8" fill="#008000"/>
<rect x="280" y="193" width="1" height="9" fill="#008000"/>
<rect x="284" y="194" width="1" height="8" fill="#008000"/>
<rect x="285" y="195" width="1" height="7" fill="#008000"/>
<rect x="293" y="197" width="1" height="5" fill="#008000"/>
<rect x="295" y="193" width="1" height="9" fill="#008000"/>
<rect x="304" y="196" width="1" height="6" fill="#008000"/>
<rect x="306" y="182" width="1" height="20" fill="#008000"/>
<rect x="307" y="183" width="1" height="19" fill="#008000"/>
<rect x="308" y="193" width="2" height="9" fill="#008000"/>
<rect x="315" y="182" width="1" height="20" fill="#008000"/>
<rect x="317" y="196" width="2" height="6" fill="#008000"/>
<rect x="319" y="187" width="1" height="15" fill="#008000"/>
<rect x="320" y="188" width="1" height="14" fill="#008000"/>
<rect x="321" y="196" width="1" height="6" fill="#008000"/>
<rect x="322" y="195" width="2" height="7" fill="#008000"/>
<rect x="324" y="194" width="1" height="8" fill="#008000"/>
<rect x="326" y="196" width="1" height="6" fill="#008000"/>
<rect x="328" y="193" width="1" height="9" fill="#008000"/>
<rect x="329" y="194" width="1" height="8" fill="#008000"/>
<rect x="330" y="195" width="2" height="7" fill="#008000"/>
<rect x="332" y="196" width="2" height="6" fill="#008000"/>
<rect x="335" y="193" width="1" height="9" fill="#008000"/>
<rect x="337" y="198" width="1" height="4" fill="#008000"/>
<rect x="341" y="198" width="1" height="4" fill="#008000"/>
<rect x="342" y="197" width="2" height="5" fill="#008000"/>
<rect x="344" y="196" width="1" height="6" fill="#008000"/>
<rect x="345" y="197" width="2" height="5" fill="#008000"/>
<rect x="348" y="194" width="1" height="8" fill="#008000"/>
<rect x="350" y="198" width="2" height="4" fill="#008000"/>
<rect x="352" y="199" width="2" height="3" fill="#008000"/>
<rect x="361" y="199" width="1" height="3" fill="#008000"/>
<rect x="362" y="198" width="2" height="4" fill="#008000"/>
<rect x="364" y="197" width="1" height="5" fill="#008000"/>
<rect x="374" y="197" width="1" height="5" fill="#008000"/>
<rect x="375" y="198" width="2" height="4" fill="#008000"/>
<rect x="377" y="197" width="1" height="5" fill="#008000"/>
<rect x="383" y="197" width="1" height="5" fill="#008000"/>
<rect x="384" y="198" width="1" height="4" fill="#008000"/>
<rect x="387" y="197" width="2" height="5" fill="#008000"/>
<rect x="392" y="197" width="1" height="5" fill="#008000"/>
<rect x="394" y="199" width="1" height="3" fill="#008000"/>
<rect x="396" y="198" width="2" height="4" fill="#008000"/>
<rect x="398" y="193" width="2" height="9" fill="#008000"/>
<rect x="405" y="178" width="1" height="24" fill="#008000"/>
<rect x="406" y="179" width="1" height="23" fill="#008000"/>
<rect x="409" y="192" width="2" height="10" fill="#008000"/>
<rect x="412" y="187" width="1" height="15" fill="#008000"/>
<rect x="418" y="192" width="2" height="10" fill="#008000"/>
<rect x="420" y="197" width="2" height="5" fill="#008000"/>
<rect x="423" y="197" width="1" height="5" fill="#008000"/>
<rect x="429" y="199" width="2" height="3" fill="#008000"/>
<rect x="434" y="199" width="1" height="3" fill="#008000"/>
<rect x="438" y="199" width="2" height="3" fill="#008000"/>
<rect x="442" y="183" width="2" height="19" fill="#008000"/>
<rect x="445" y="196" width="1" height="6" fill="#008000"/>
<rect x="447" y="199" width="1" height="3" fill="#008000"/>
<rect x="453" y="199" width="1" height="3" fill="#008000"/>
<rect x="454" y="198" width="1" height="4" fill="#008000"/>
<rect x="456" y="200" width="1" height="2" fill="#008000"/>
<rect x="458" y="196" width="2" height="6" fill="#008000"/>
<rect x="464" y="195" width="2" height="7" fill="#008000"/>
<rect x="469" y="187" width="1" height="15" fill="#008000"/>
<rect x="470" y="188" width="1" height="14" fill="#008000"/>
<rect x="473" y="197" width="2" height="5" fill="#008000"/>
<rect x="475" y="196" width="2" height="6" fill="#008000"/>
<rect x="486" y="187" width="2" height="15" fill="#008000"/>
<rect x="493" y="189" width="2" height="13" fill="#008000"/>
<rect x="504" y="195" width="2" height="7" fill="#008000"/>
<rect x="506" y="189" width="2" height="13" fill="#008000"/>
<rect x="508" y="177" width="1" height="25" fill="#008000"/>
<rect x="509" y="176" width="1" height="26" fill="#008000"/>
<rect x="522" y="194" width="1" height="8" fill="#008000"/>
<rect x="530" y="195" width="2" height="7" fill="#008000"/>
<rect x="539" y="171" width="2" height="31" fill="#008000"/>
<rect x="542" y="188" width="1" height="14" fill="#008000"/>
<rect x="550" y="195" width="1" height="7" fill="#008000"/>
<rect x="551" y="194" width="1" height="8" fill="#008000"/>
<rect x="555" y="199" width="1" height="3" fill="#008000"/>
<rect x="564" y="188" width="1" height="14" fill="#008000"/>
<rect x="568" y="200" width="1" height="2" fill="#008000"/>
<rect x="570" y="193" width="2" height="9" fill="#008000"/>
<rect x="577" y="129" width="1" height="73" fill="#008000"/>
<rect x="581" y="193" width="2" height="9" fill="#008000"/>
<rect x="583" y="179" width="2" height="23" fill="#008000"/>
<rect x="586" y="195" width="1" height="7" fill="#008000"/>
<rect x="588" y="180" width="1" height="22" fill="#008000"/>
<rect x="590" y="161" width="2" height="41" fill="#008000"/>
<rect x="592" y="160" width="2" height="42" fill="#008000"/>
<rect x="594" y="178" width="2" height="24" fill="#008000"/>
<rect x="597" y="193" width="1" height="9" fill="#008000"/>
<rect x="599" y="130" width="1" height="72" fill="#008000"/>
<rect x="610" y="184" width="1" height="18" fill="#008000"/>
<rect x="619" y="200" width="1" height="2" fill="#008000"/>
<rect x="621" y="182" width="1" height="20" fill="#008000"/>
<rect x="625" y="197" width="2" height="5" fill="#008000"/>
<rect x="632" y="130" width="1" height="72" fill="#008000"/>
<rect x="641" y="166" width="1" height="36" fill="#008000"/>
<rect x="645" y="189" width="2" height="13" fill="#008000"/>
<rect x="654" y="200" width="1" height="2" fill="#008000"/>
<rect x="655" y="201" width="1" height="1" fill="#008000"/>
<rect x="663" y="199" width="1" height="3" fill="#008000"/>
<rect x="669" y="192" width="1" height="10" fill="#008000"/>
<rect x="670" y="191" width="1" height="11" fill="#008000"/>
<rect x="674" y="185" width="1" height="17" fill="#008000"/>
<rect x="683" y="157" width="1" height="45" fill="#008000"/>
<rect x="685" y="130" width="1" height="72" fill="#008000"/>
<rect x="687" y="171" width="1" height="31" fill="#008000"/>
<rect x="689" y="117" width="1" height="85" fill="#008000"/>
<rect x="690" y="118" width="1" height="84" fill="#008000"/>
<rect x="696" y="187" width="1" height="15" fill="#008000"/>
<rect x="698" y="130" width="1" height="72" fill="#008000"/>
<rect x="699" y="131" width="1" height="71" fill="#008000"/>
<rect x="700" y="189" width="2" height="13" fill="#008000"/>
<rect x="711" y="197" width="2" height="5" fill="#008000"/>
<rect x="713" y="187" width="3" height="15" fill="#008000"/>
<rect x="716" y="186" width="1" height="16" fill="#008000"/>
<rect x="718" y="185" width="1" height="17" fill="#008000"/>
<rect x="720" y="130" width="1" height="72" fill="#008000"/>
<rect x="722" y="189" width="2" height="13" fill="#008000"/>
<rect x="724" y="176" width="2" height="26" fill="#008000"/>
<rect x="726" y="157" width="2" height="45" fill="#008000"/>
<rect x="731" y="161" width="1" height="41" fill="#008000"/>
<rect x="733" y="191" width="1" height="11" fill="#008000"/>
<rect x="734" y="192" width="1" height="10" fill="#008000"/>
<rect x="735" y="154" width="2" height="48" fill="#008000"/>
<rect x="740" y="156" width="1" height="46" fill="#008000"/>
<rect x="746" y="199" width="1" height="3" fill="#008000"/>
<rect x="747" y="198" width="1" height="4" fill="#008000"/>
<rect x="762" y="130" width="1" height="72" fill="#008000"/>
<rect x="771" y="130" width="1" height="72" fill="#008000"/>
<rect x="775" y="60" width="2" height="142" fill="#008000"/>
<rect x="105" y="12" width="674" height="1" fill="#000"/>
<rect x="105" y="390" width="674" height="1" fill="#000"/>
<rect x="111" y="12" width="1" height="379" fill="#000"/>
<rect x="778" y="12" width="1" height="379" fill="#000"/>
<rect x="105" y="201" width="13" height="1" fill="#000"/>
<rect x="771" y="201" width="7" height="1" fill="#000"/>
<path d="M50 4h4v1h-4zM59 4h3v1h-3zM68 4h3v1h-3zM77 4h3v1h-3zM86 4h3v1h-3zM49 5h1v1h-1zM54 5h1v1h-1zM58 5h1v1h-1zM62 5h1v1h-1zM67 5h1v1h-1zM71 5h1v1h-1zM76 5h1v1h-1zM80 5h1v1h-1zM85 5h1v1h-1zM89 5h1v1h-1zM48 6h1v1h-1zM54 6h1v1h-1zM57 6h1v1h-1zM63 6h1v1h-1zM66 6h1v1h-1zM72 6h1v1h-1zM75 6h1v1h-1zM81 6h1v1h-1zM84 6h1v1h-1zM90 6h1v1h-1zM54 7h1v1h-1zM57 7h1v1h-1zM63 7h1v1h-1zM66 7h1v1h-1zM72 7h1v1h-1zM75 7h1v1h-1zM81 7h1v1h-1zM84 7h1v1h-1zM90 7h1v1h-1zM54 8h1v1h-1zM57 8h1v1h-1zM63 8h1v1h-1zM66 8h1v1h-1zM72 8h1v1h-1zM75 8h1v1h-1zM81 8h1v1h-1zM84 8h1v1h-1zM90 8h1v1h-1zM53 9h1v1h-1zM57 9h1v1h-1zM63 9h1v1h-1zM66 9h1v1h-1zM72 9h1v1h-1zM75 9h1v1h-1zM81 9h1v1h-1zM84 9h1v1h-1zM90 9h1v1h-1zM53 10h1v1h-1zM57 10h1v1h-1zM63 10h1v1h-1zM66 10h1v1h-1zM72 10h1v1h-1zM75 10h1v1h-1zM81 10h1v1h-1zM84 10h1v1h-1zM90 10h1v1h-1zM52 11h1v1h-1zM57 11h1v1h-1zM63 11h1v1h-1zM66 11h1v1h-1zM72 11h1v1h-1zM75 11h1v1h-1zM81 11h1v1h-1zM84 11h1v1h-1zM90 11h1v1h-1zM51 12h1v1h-1zM57 12h1v1h-1zM63 12h1v1h-1zM66 12h1v1h-1zM72 12h1v1h-1zM75 12h1v1h-1zM81 12h1v1h-1zM84 12h1v1h-1zM90 12h1v1h-1zM50 13h1v1h-1zM57 13h1v1h-1zM63 13h1v1h-1zM66 13h1v1h-1zM72 13h1v1h-1zM75 13h1v1h-1zM81 13h1v1h-1zM84 13h1v1h-1zM90 13h1v1h-1zM49 14h1v1h-1zM58 14h1v1h-1zM62 14h1v1h-1zM67 14h1v1h-1zM71 14h1v1h-1zM76 14h1v1h-1zM80 14h1v1h-1zM85 14h1v1h-1zM89 14h1v1h-1zM48 15h7v1h-7zM59 15h3v1h-3zM68 15h3v1h-3zM77 15h3v1h-3zM86 15h3v1h-3zM52 52h1v1h-1zM58 52h6v1h-6zM68 52h3v1h-3zM77 52h3v1h-3zM86 52h3v1h-3zM51 53h2v1h-2zM58 53h1v1h-1zM67 53h1v1h-1zM71 53h1v1h-1zM76 53h1v1h-1zM80 53h1v1h-1zM85 53h1v1h-1zM89 53h1v1h-1zM50 54h1v1h-1zM52 54h1v1h-1zM58 54h1v1h-1zM66 54h1v1h-1zM72 54h1v1h-1zM75 54h1v1h-1zM81 54h1v1h-1zM84 54h1v1h-1zM90 54h1v1h-1zM49 55h1v1h-1zM52 55h1v1h-1zM57 55h1v1h-1zM66 55h1v1h-1zM72 55h1v1h-1zM75 55h1v1h-1zM81 55h1v1h-1zM84 55h1v1h-1zM90 55h1v1h-1zM52 56h1v1h-1zM57 56h5v1h-5zM66 56h1v1h-1zM72 56h1v1h-1zM75 56h1v1h-1zM81 56h1v1h-1zM84 56h1v1h-1zM90 56h1v1h-1zM52 57h1v1h-1zM57 57h1v1h-1zM62 57h1v1h-1zM66 57h1v1h-1zM72 57h1v1h-1zM75 57h1v1h-1zM81 57h1v1h-1zM84 57h1v1h-1zM90 57h1v1h-1zM52 58h1v1h-1zM63 58h1v1h-1zM66 58h1v1h-1zM72 58h1v1h-1zM75 58h1v1h-1zM81 58h1v1h-1zM84 58h1v1h-1zM90 58h1v1h-1zM52 59h1v1h-1zM63 59h1v1h-1zM66 59h1v1h-1zM72 59h1v1h-1zM75 59h1v1h-1zM81 59h1v1h-1zM84 59h1v1h-1zM90 59h1v1h-1zM52 60h1v1h-1zM63 60h1v1h-1zM66 60h1v1h-1zM72 60h1v1h-1zM75 60h1v1h-1zM81 60h1v1h-1zM84 60h1v1h-1zM90 60h1v1h-1zM52 61h1v1h-1zM57 61h1v1h-1zM63 61h1v1h-1zM66 61h1v1h-1zM72 61h1v1h-1zM75 61h1v1h-1zM81 61h1v1h-1zM84 61h1v1h-1zM90 61h1v1h-1zM52 62h1v1h-1zM58 62h1v1h-1zM62 62h1v1h-1zM67 62h1v1h-1zM71 62h1v1h-1zM76 62h1v1h-1zM80 62h1v1h-1zM85 62h1v1h-1zM89 62h1v1h-1zM52 63h1v1h-1zM59 63h3v1h-3zM68 63h3v1h-3zM77 63h3v1h-3zM86 63h3v1h-3zM52 99h1v1h-1zM59 99h3v1h-3zM68 99h3v1h-3zM77 99h3v1h-3zM86 99h3v1h-3zM51 100h2v1h-2zM58 100h1v1h-1zM62 100h1v1h-1zM67 100h1v1h-1zM71 100h1v1h-1zM76 100h1v1h-1zM80 100h1v1h-1zM85 100h1v1h-1zM89 100h1v1h-1zM50 101h1v1h-1zM52 101h1v1h-1zM57 101h1v1h-1zM63 101h1v1h-1zM66 101h1v1h-1zM72 101h1v1h-1zM75 101h1v1h-1zM81 101h1v1h-1zM84 101h1v1h-1zM90 101h1v1h-1zM49 102h1v1h-1zM52 102h1v1h-1zM57 102h1v1h-1zM63 102h1v1h-1zM66 102h1v1h-1zM72 102h1v1h-1zM75 102h1v1h-1zM81 102h1v1h-1zM84 102h1v1h-1zM90 102h1v1h-1zM52 103h1v1h-1zM57 103h1v1h-1zM63 103h1v1h-1zM66 103h1v1h-1zM72 103h1v1h-1zM75 103h1v1h-1zM81 103h1v1h-1zM84 103h1v1h-1zM90 103h1v1h-1zM52 104h1v1h-1zM57 104h1v1h-1zM63 104h1v1h-1zM66 104h1v1h-1zM72 104h1v1h-1zM75 104h1v1h-1zM81 104h1v1h-1zM84 104h1v1h-1zM90 104h1v1h-1zM52 105h1v1h-1zM57 105h1v1h-1zM63 105h1v1h-1zM66 105h1v1h-1zM72 105h1v1h-1zM75 105h1v1h-1zM81 105h1v1h-1zM84 105h1v1h-1zM90 105h1v1h-1zM52 106h1v1h-1zM57 106h1v1h-1zM63 106h1v1h-1zM66 106h1v1h-1zM72 106h1v1h-1zM75 106h1v1h-1zM81 106h1v1h-1zM84 106h1v1h-1zM90 106h1v1h-1zM52 107h1v1h-1zM57 107h1v1h-1zM63 107h1v1h-1zM66 107h1v1h-1zM72 107h1v1h-1zM75 107h1v1h-1zM81 107h1v1h-1zM84 107h1v1h-1zM90 107h1v1h-1zM52 108h1v1h-1zM57 108h1v1h-1zM63 108h1v1h-1zM66 108h1v1h-1zM72 108h1v1h-1zM75 108h1v1h-1zM81 108h1v1h-1zM84 108h1v1h-1zM90 108h1v1h-1zM52 109h1v1h-1zM58 109h1v1h-1zM62 109h1v1h-1zM67 109h1v1h-1zM71 109h1v1h-1zM76 109h1v1h-1zM80 109h1v1h-1zM85 109h1v1h-1zM89 109h1v1h-1zM52 110h1v1h-1zM59 110h3v1h-3zM68 110h3v1h-3zM77 110h3v1h-3zM86 110h3v1h-3zM53 146h6v1h-6zM63 146h3v1h-3zM72 146h3v1h-3zM81 146h3v1h-3zM53 147h1v1h-1zM62 147h1v1h-1zM66 147h1v1h-1zM71 147h1v1h-1zM75 147h1v1h-1zM80 147h1v1h-1zM84 147h1v1h-1zM53 148h1v1h-1zM61 148h1v1h-1zM67 148h1v1h-1zM70 148h1v1h-1zM76 148h1v1h-1zM79 148h1v1h-1zM85 148h1v1h-1zM52 149h1v1h-1zM61 149h1v1h-1zM67 149h1v1h-1zM70 149h1v1h-1zM76 149h1v1h-1zM79 149h1v1h-1zM85 149h1v1h-1zM52 150h5v1h-5zM61 150h1v1h-1zM67 150h1v1h-1zM70 150h1v1h-1zM76 150h1v1h-1zM79 150h1v1h-1zM85 150h1v1h-1zM52 151h1v1h-1zM57 151h1v1h-1zM61 151h1v1h-1zM67 151h1v1h-1zM70 151h1v1h-1zM76 151h1v1h-1zM79 151h1v1h-1zM85 151h1v1h-1zM58 152h1v1h-1zM61 152h1v1h-1zM67 152h1v1h-1zM70 152h1v1h-1zM76 152h1v1h-1zM79 152h1v1h-1zM85 152h1v1h-1zM58 153h1v1h-1zM61 153h1v1h-1zM67 153h1v1h-1zM70 153h1v1h-1zM76 153h1v1h-1zM79 153h1v1h-1zM85 153h1v1h-1zM58 154h1v1h-1zM61 154h1v1h-1zM67 154h1v1h-1zM70 154h1v1h-1zM76 154h1v1h-1zM79 154h1v1h-1zM85 154h1v1h-1zM52 155h1v1h-1zM58 155h1v1h-1zM61 155h1v1h-1zM67 155h1v1h-1zM70 155h1v1h-1zM76 155h1v1h-1zM79 155h1v1h-1zM85 155h1v1h-1zM53 156h1v1h-1zM57 156h1v1h-1zM62 156h1v1h-1zM66 156h1v1h-1zM71 156h1v1h-1zM75 156h1v1h-1zM80 156h1v1h-1zM84 156h1v1h-1zM54 157h3v1h-3zM63 157h3v1h-3zM72 157h3v1h-3zM81 157h3v1h-3zM18 164h2v1h-2zM25 164h2v1h-2zM18 165h2v1h-2zM25 165h2v1h-2zM15 166h12v1h-12zM16 167h10v1h-10zM18 168h2v1h-2zM15 171h2v1h-2zM18 171h9v1h-9zM15 172h2v1h-2zM18 172h9v1h-9zM15 174h2v1h-2zM15 175h2v1h-2zM18 175h2v1h-2zM15 176h2v1h-2zM18 176h2v1h-2zM15 177h12v1h-12zM16 178h11v1h-11zM18 179h2v1h-2zM20 181h5v1h-5zM19 182h7v1h-7zM18 183h3v1h-3zM24 183h3v1h-3zM18 184h2v1h-2zM25 184h2v1h-2zM18 185h2v1h-2zM25 185h2v1h-2zM18 186h3v1h-3zM24 186h3v1h-3zM19 187h7v1h-7zM20 188h5v1h-5zM18 190h2v1h-2zM18 191h2v1h-2zM18 192h2v1h-2zM19 193h2v1h-2zM67 193h3v1h-3zM18 194h9v1h-9zM66 194h1v1h-1zM70 194h1v1h-1zM18 195h9v1h-9zM65 195h1v1h-1zM71 195h1v1h-1zM65 196h1v1h-1zM71 196h1v1h-1zM65 197h1v1h-1zM71 197h1v1h-1zM17 198h3v1h-3zM65 198h1v1h-1zM71 198h1v1h-1zM16 199h5v1h-5zM65 199h1v1h-1zM71 199h1v1h-1zM15 200h3v1h-3zM19 200h3v1h-3zM65 200h1v1h-1zM71 200h1v1h-1zM15 201h2v1h-2zM20 201h2v1h-2zM65 201h1v1h-1zM71 201h1v1h-1zM15 202h2v1h-2zM20 202h2v1h-2zM65 202h1v1h-1zM71 202h1v1h-1zM15 203h2v1h-2zM20 203h2v1h-2zM66 203h1v1h-1zM70 203h1v1h-1zM15 204h2v1h-2zM20 204h2v1h-2zM67 204h3v1h-3zM15 205h12v1h-12zM15 206h12v1h-12zM18 214h2v1h-2zM25 214h2v1h-2zM18 215h2v1h-2zM25 215h2v1h-2zM15 216h12v1h-12zM16 217h10v1h-10zM18 218h2v1h-2zM20 220h3v1h-3zM24 220h1v1h-1zM19 221h4v1h-4zM24 221h2v1h-2zM18 222h2v1h-2zM21 222h2v1h-2zM25 222h2v1h-2zM18 223h2v1h-2zM21 223h2v1h-2zM25 223h2v1h-2zM18 224h2v1h-2zM21 224h2v1h-2zM24 224h3v1h-3zM19 225h7v1h-7zM20 226h5v1h-5zM15 229h12v1h-12zM15 230h12v1h-12zM23 231h3v1h-3zM22 232h3v1h-3zM20 233h3v1h-3zM19 234h3v1h-3zM17 235h3v1h-3zM16 236h3v1h-3zM15 237h12v1h-12zM15 238h12v1h-12zM56 241h6v1h-6zM66 241h3v1h-3zM75 241h3v1h-3zM84 241h3v1h-3zM56 242h1v1h-1zM65 242h1v1h-1zM69 242h1v1h-1zM74 242h1v1h-1zM78 242h1v1h-1zM83 242h1v1h-1zM87 242h1v1h-1zM56 243h1v1h-1zM64 243h1v1h-1zM70 243h1v1h-1zM73 243h1v1h-1zM79 243h1v1h-1zM82 243h1v1h-1zM88 243h1v1h-1zM55 244h1v1h-1zM64 244h1v1h-1zM70 244h1v1h-1zM73 244h1v1h-1zM79 244h1v1h-1zM82 244h1v1h-1zM88 244h1v1h-1zM55 245h5v1h-5zM64 245h1v1h-1zM70 245h1v1h-1zM73 245h1v1h-1zM79 245h1v1h-1zM82 245h1v1h-1zM88 245h1v1h-1zM55 246h1v1h-1zM60 246h1v1h-1zM64 246h1v1h-1zM70 246h1v1h-1zM73 246h1v1h-1zM79 246h1v1h-1zM82 246h1v1h-1zM88 246h1v1h-1zM61 247h1v1h-1zM64 247h1v1h-1zM70 247h1v1h-1zM73 247h1v1h-1zM79 247h1v1h-1zM82 247h1v1h-1zM88 247h1v1h-1zM48 248h5v1h-5zM61 248h1v1h-1zM64 248h1v1h-1zM70 248h1v1h-1zM73 248h1v1h-1zM79 248h1v1h-1zM82 248h1v1h-1zM88 248h1v1h-1zM61 249h1v1h-1zM64 249h1v1h-1zM70 249h1v1h-1zM73 249h1v1h-1zM79 249h1v1h-1zM82 249h1v1h-1zM88 249h1v1h-1zM55 250h1v1h-1zM61 250h1v1h-1zM64 250h1v1h-1zM70 250h1v1h-1zM73 250h1v1h-1zM79 250h1v1h-1zM82 250h1v1h-1zM88 250h1v1h-1zM56 251h1v1h-1zM60 251h1v1h-1zM65 251h1v1h-1zM69 251h1v1h-1zM74 251h1v1h-1zM78 251h1v1h-1zM83 251h1v1h-1zM87 251h1v1h-1zM57 252h3v1h-3zM66 252h3v1h-3zM75 252h3v1h-3zM84 252h3v1h-3zM54 288h1v1h-1zM61 288h3v1h-3zM70 288h3v1h-3zM79 288h3v1h-3zM88 288h3v1h-3zM53 289h2v1h-2zM60 289h1v1h-1zM64 289h1v1h-1zM69 289h1v1h-1zM73 289h1v1h-1zM78 289h1v1h-1zM82 289h1v1h-1zM87 289h1v1h-1zM91 289h1v1h-1zM52 290h1v1h-1zM54 290h1v1h-1zM59 290h1v1h-1zM65 290h1v1h-1zM68 290h1v1h-1zM74 290h1v1h-1zM77 290h1v1h-1zM83 290h1v1h-1zM86 290h1v1h-1zM92 290h1v1h-1zM51 291h1v1h-1zM54 291h1v1h-1zM59 291h1v1h-1zM65 291h1v1h-1zM68 291h1v1h-1zM74 291h1v1h-1zM77 291h1v1h-1zM83 291h1v1h-1zM86 291h1v1h-1zM92 291h1v1h-1zM54 292h1v1h-1zM59 292h1v1h-1zM65 292h1v1h-1zM68 292h1v1h-1zM74 292h1v1h-1zM77 292h1v1h-1zM83 292h1v1h-1zM86 292h1v1h-1zM92 292h1v1h-1zM54 293h1v1h-1zM59 293h1v1h-1zM65 293h1v1h-1zM68 293h1v1h-1zM74 293h1v1h-1zM77 293h1v1h-1zM83 293h1v1h-1zM86 293h1v1h-1zM92 293h1v1h-1zM54 294h1v1h-1zM59 294h1v1h-1zM65 294h1v1h-1zM68 294h1v1h-1zM74 294h1v1h-1zM77 294h1v1h-1zM83 294h1v1h-1zM86 294h1v1h-1zM92 294h1v1h-1zM43 295h5v1h-5zM54 295h1v1h-1zM59 295h1v1h-1zM65 295h1v1h-1zM68 295h1v1h-1zM74 295h1v1h-1zM77 295h1v1h-1zM83 295h1v1h-1zM86 295h1v1h-1zM92 295h1v1h-1zM54 296h1v1h-1zM59 296h1v1h-1zM65 296h1v1h-1zM68 296h1v1h-1zM74 296h1v1h-1zM77 296h1v1h-1zM83 296h1v1h-1zM86 296h1v1h-1zM92 296h1v1h-1zM54 297h1v1h-1zM59 297h1v1h-1zM65 297h1v1h-1zM68 297h1v1h-1zM74 297h1v1h-1zM77 297h1v1h-1zM83 297h1v1h-1zM86 297h1v1h-1zM92 297h1v1h-1zM54 298h1v1h-1zM60 298h1v1h-1zM64 298h1v1h-1zM69 298h1v1h-1zM73 298h1v1h-1zM78 298h1v1h-1zM82 298h1v1h-1zM87 298h1v1h-1zM91 298h1v1h-1zM54 299h1v1h-1zM61 299h3v1h-3zM70 299h3v1h-3zM79 299h3v1h-3zM88 299h3v1h-3zM54 335h1v1h-1zM60 335h6v1h-6zM70 335h3v1h-3zM79 335h3v1h-3zM88 335h3v1h-3zM53 336h2v1h-2zM60 336h1v1h-1zM69 336h1v1h-1zM73 336h1v1h-1zM78 336h1v1h-1zM82 336h1v1h-1zM87 336h1v1h-1zM91 336h1v1h-1zM52 337h1v1h-1zM54 337h1v1h-1zM60 337h1v1h-1zM68 337h1v1h-1zM74 337h1v1h-1zM77 337h1v1h-1zM83 337h1v1h-1zM86 337h1v1h-1zM92 337h1v1h-1zM51 338h1v1h-1zM54 338h1v1h-1zM59 338h1v1h-1zM68 338h1v1h-1zM74 338h1v1h-1zM77 338h1v1h-1zM83 338h1v1h-1zM86 338h1v1h-1zM92 338h1v1h-1zM54 339h1v1h-1zM59 339h5v1h-5zM68 339h1v1h-1zM74 339h1v1h-1zM77 339h1v1h-1zM83 339h1v1h-1zM86 339h1v1h-1zM92 339h1v1h-1zM54 340h1v1h-1zM59 340h1v1h-1zM64 340h1v1h-1zM68 340h1v1h-1zM74 340h1v1h-1zM77 340h1v1h-1zM83 340h1v1h-1zM86 340h1v1h-1zM92 340h1v1h-1zM54 341h1v1h-1zM65 341h1v1h-1zM68 341h1v1h-1zM74 341h1v1h-1zM77 341h1v1h-1zM83 341h1v1h-1zM86 341h1v1h-1zM92 341h1v1h-1zM43 342h5v1h-5zM54 342h1v1h-1zM65 342h1v1h-1zM68 342h1v1h-1zM74 342h1v1h-1zM77 342h1v1h-1zM83 342h1v1h-1zM86 342h1v1h-1zM92 342h1v1h-1zM54 343h1v1h-1zM65 343h1v1h-1zM68 343h1v1h-1zM74 343h1v1h-1zM77 343h1v1h-1zM83 343h1v1h-1zM86 343h1v1h-1zM92 343h1v1h-1zM54 344h1v1h-1zM59 344h1v1h-1zM65 344h1v1h-1zM68 344h1v1h-1zM74 344h1v1h-1zM77 344h1v1h-1zM83 344h1v1h-1zM86 344h1v1h-1zM92 344h1v1h-1zM54 345h1v1h-1zM60 345h1v1h-1zM64 345h1v1h-1zM69 345h1v1h-1zM73 345h1v1h-1zM78 345h1v1h-1zM82 345h1v1h-1zM87 345h1v1h-1zM91 345h1v1h-1zM54 346h1v1h-1zM61 346h3v1h-3zM70 346h3v1h-3zM79 346h3v1h-3zM88 346h3v1h-3zM52 382h4v1h-4zM61 382h3v1h-3zM70 382h3v1h-3zM79 382h3v1h-3zM88 382h3v1h-3zM51 383h1v1h-1zM56 383h1v1h-1zM60 383h1v1h-1zM64 383h1v1h-1zM69 383h1v1h-1zM73 383h1v1h-1zM78 383h1v1h-1zM82 383h1v1h-1zM87 383h1v1h-1zM91 383h1v1h-1zM50 384h1v1h-1zM56 384h1v1h-1zM59 384h1v1h-1zM65 384h1v1h-1zM68 384h1v1h-1zM74 384h1v1h-1zM77 384h1v1h-1zM83 384h1v1h-1zM86 384h1v1h-1zM92 384h1v1h-1zM56 385h1v1h-1zM59 385h1v1h-1zM65 385h1v1h-1zM68 385h1v1h-1zM74 385h1v1h-1zM77 385h1v1h-1zM83 385h1v1h-1zM86 385h1v1h-1zM92 385h1v1h-1zM56 386h1v1h-1zM59 386h1v1h-1zM65 386h1v1h-1zM68 386h1v1h-1zM74 386h1v1h-1zM77 386h1v1h-1zM83 386h1v1h-1zM86 386h1v1h-1zM92 386h1v1h-1zM55 387h1v1h-1zM59 387h1v1h-1zM65 387h1v1h-1zM68 387h1v1h-1zM74 387h1v1h-1zM77 387h1v1h-1zM83 387h1v1h-1zM86 387h1v1h-1zM92 387h1v1h-1zM55 388h1v1h-1zM59 388h1v1h-1zM65 388h1v1h-1zM68 388h1v1h-1zM74 388h1v1h-1zM77 388h1v1h-1zM83 388h1v1h-1zM86 388h1v1h-1zM92 388h1v1h-1zM43 389h5v1h-5zM54 389h1v1h-1zM59 389h1v1h-1zM65 389h1v1h-1zM68 389h1v1h-1zM74 389h1v1h-1zM77 389h1v1h-1zM83 389h1v1h-1zM86 389h1v1h-1zM92 389h1v1h-1zM53 390h1v1h-1zM59 390h1v1h-1zM65 390h1v1h-1zM68 390h1v1h-1zM74 390h1v1h-1zM77 390h1v1h-1zM83 390h1v1h-1zM86 390h1v1h-1zM92 390h1v1h-1zM52 391h1v1h-1zM59 391h1v1h-1zM65 391h1v1h-1zM68 391h1v1h-1zM74 391h1v1h-1zM77 391h1v1h-1zM83 391h1v1h-1zM86 391h1v1h-1zM92 391h1v1h-1zM51 392h1v1h-1zM60 392h1v1h-1zM64 392h1v1h-1zM69 392h1v1h-1zM73 392h1v1h-1zM78 392h1v1h-1zM82 392h1v1h-1zM87 392h1v1h-1zM91 392h1v1h-1zM50 393h7v1h-7zM61 393h3v1h-3zM70 393h3v1h-3zM79 393h3v1h-3zM88 393h3v1h-3zM111 405h4v1h-4zM120 405h3v1h-3zM129 405h3v1h-3zM140 405h1v1h-1zM217 405h4v1h-4zM226 405h3v1h-3zM235 405h3v1h-3zM243 405h6v1h-6zM323 405h4v1h-4zM332 405h3v1h-3zM341 405h3v1h-3zM350 405h3v1h-3zM428 405h4v1h-4zM437 405h3v1h-3zM448 405h1v1h-1zM455 405h3v1h-3zM534 405h4v1h-4zM543 405h3v1h-3zM554 405h1v1h-1zM559 405h7v1h-7zM640 405h4v1h-4zM649 405h3v1h-3zM658 405h4v1h-4zM669 405h1v1h-1zM745 405h4v1h-4zM754 405h3v1h-3zM763 405h4v1h-4zM771 405h6v1h-6zM110 406h1v1h-1zM115 406h1v1h-1zM119 406h1v1h-1zM123 406h1v1h-1zM128 406h1v1h-1zM132 406h1v1h-1zM139 406h2v1h-2zM216 406h1v1h-1zM221 406h1v1h-1zM225 406h1v1h-1zM229 406h1v1h-1zM234 406h1v1h-1zM238 406h1v1h-1zM243 406h1v1h-1zM322 406h1v1h-1zM327 406h1v1h-1zM331 406h1v1h-1zM335 406h1v1h-1zM340 406h1v1h-1zM344 406h1v1h-1zM349 406h1v1h-1zM353 406h1v1h-1zM427 406h1v1h-1zM432 406h1v1h-1zM436 406h1v1h-1zM440 406h1v1h-1zM447 406h2v1h-2zM454 406h1v1h-1zM458 406h1v1h-1zM533 406h1v1h-1zM538 406h1v1h-1zM542 406h1v1h-1zM546 406h1v1h-1zM553 406h2v1h-2zM565 406h1v1h-1zM639 406h1v1h-1zM644 406h1v1h-1zM648 406h1v1h-1zM652 406h1v1h-1zM657 406h1v1h-1zM662 406h1v1h-1zM668 406h2v1h-2zM744 406h1v1h-1zM749 406h1v1h-1zM753 406h1v1h-1zM757 406h1v1h-1zM762 406h1v1h-1zM767 406h1v1h-1zM771 406h1v1h-1zM109 407h1v1h-1zM115 407h1v1h-1zM118 407h1v1h-1zM124 407h1v1h-1zM127 407h1v1h-1zM133 407h1v1h-1zM138 407h1v1h-1zM140 407h1v1h-1zM215 407h1v1h-1zM221 407h1v1h-1zM224 407h1v1h-1zM230 407h1v1h-1zM233 407h1v1h-1zM239 407h1v1h-1zM243 407h1v1h-1zM321 407h1v1h-1zM327 407h1v1h-1zM330 407h1v1h-1zM336 407h1v1h-1zM339 407h1v1h-1zM345 407h1v1h-1zM348 407h1v1h-1zM354 407h1v1h-1zM426 407h1v1h-1zM432 407h1v1h-1zM435 407h1v1h-1zM441 407h1v1h-1zM446 407h1v1h-1zM448 407h1v1h-1zM453 407h1v1h-1zM458 407h1v1h-1zM532 407h1v1h-1zM538 407h1v1h-1zM541 407h1v1h-1zM547 407h1v1h-1zM552 407h1v1h-1zM554 407h1v1h-1zM564 407h1v1h-1zM638 407h1v1h-1zM644 407h1v1h-1zM647 407h1v1h-1zM653 407h1v1h-1zM656 407h1v1h-1zM662 407h1v1h-1zM667 407h1v1h-1zM669 407h1v1h-1zM743 407h1v1h-1zM749 407h1v1h-1zM752 407h1v1h-1zM758 407h1v1h-1zM761 407h1v1h-1zM767 407h1v1h-1zM771 407h1v1h-1zM115 408h1v1h-1zM118 408h1v1h-1zM124 408h1v1h-1zM127 408h1v1h-1zM133 408h1v1h-1zM137 408h1v1h-1zM140 408h1v1h-1zM221 408h1v1h-1zM224 408h1v1h-1zM230 408h1v1h-1zM233 408h1v1h-1zM239 408h1v1h-1zM242 408h1v1h-1zM327 408h1v1h-1zM330 408h1v1h-1zM336 408h1v1h-1zM339 408h1v1h-1zM345 408h1v1h-1zM348 408h1v1h-1zM354 408h1v1h-1zM432 408h1v1h-1zM435 408h1v1h-1zM441 408h1v1h-1zM445 408h1v1h-1zM448 408h1v1h-1zM458 408h1v1h-1zM538 408h1v1h-1zM541 408h1v1h-1zM547 408h1v1h-1zM551 408h1v1h-1zM554 408h1v1h-1zM564 408h1v1h-1zM644 408h1v1h-1zM647 408h1v1h-1zM653 408h1v1h-1zM662 408h1v1h-1zM666 408h1v1h-1zM669 408h1v1h-1zM749 408h1v1h-1zM752 408h1v1h-1zM758 408h1v1h-1zM767 408h1v1h-1zM770 408h1v1h-1zM115 409h1v1h-1zM118 409h1v1h-1zM124 409h1v1h-1zM127 409h1v1h-1zM133 409h1v1h-1zM140 409h1v1h-1zM221 409h1v1h-1zM224 409h1v1h-1zM230 409h1v1h-1zM233 409h1v1h-1zM239 409h1v1h-1zM242 409h5v1h-5zM327 409h1v1h-1zM330 409h1v1h-1zM336 409h1v1h-1zM339 409h1v1h-1zM345 409h1v1h-1zM348 409h1v1h-1zM354 409h1v1h-1zM432 409h1v1h-1zM435 409h1v1h-1zM441 409h1v1h-1zM448 409h1v1h-1zM458 409h1v1h-1zM538 409h1v1h-1zM541 409h1v1h-1zM547 409h1v1h-1zM554 409h1v1h-1zM563 409h1v1h-1zM644 409h1v1h-1zM647 409h1v1h-1zM653 409h1v1h-1zM662 409h1v1h-1zM669 409h1v1h-1zM749 409h1v1h-1zM752 409h1v1h-1zM758 409h1v1h-1zM767 409h1v1h-1zM770 409h5v1h-5zM114 410h1v1h-1zM118 410h1v1h-1zM124 410h1v1h-1zM127 410h1v1h-1zM133 410h1v1h-1zM140 410h1v1h-1zM220 410h1v1h-1zM224 410h1v1h-1zM230 410h1v1h-1zM233 410h1v1h-1zM239 410h1v1h-1zM242 410h1v1h-1zM247 410h1v1h-1zM326 410h1v1h-1zM330 410h1v1h-1zM336 410h1v1h-1zM339 410h1v1h-1zM345 410h1v1h-1zM348 410h1v1h-1zM354 410h1v1h-1zM431 410h1v1h-1zM435 410h1v1h-1zM441 410h1v1h-1zM448 410h1v1h-1zM455 410h3v1h-3zM537 410h1v1h-1zM541 410h1v1h-1zM547 410h1v1h-1zM554 410h1v1h-1zM563 410h1v1h-1zM643 410h1v1h-1zM647 410h1v1h-1zM653 410h1v1h-1zM661 410h1v1h-1zM669 410h1v1h-1zM748 410h1v1h-1zM752 410h1v1h-1zM758 410h1v1h-1zM766 410h1v1h-1zM770 410h1v1h-1zM775 410h1v1h-1zM114 411h1v1h-1zM118 411h1v1h-1zM124 411h1v1h-1zM127 411h1v1h-1zM133 411h1v1h-1zM140 411h1v1h-1zM220 411h1v1h-1zM224 411h1v1h-1zM230 411h1v1h-1zM233 411h1v1h-1zM239 411h1v1h-1zM248 411h1v1h-1zM326 411h1v1h-1zM330 411h1v1h-1zM336 411h1v1h-1zM339 411h1v1h-1zM345 411h1v1h-1zM349 411h1v1h-1zM353 411h2v1h-2zM431 411h1v1h-1zM435 411h1v1h-1zM441 411h1v1h-1zM448 411h1v1h-1zM458 411h1v1h-1zM537 411h1v1h-1zM541 411h1v1h-1zM547 411h1v1h-1zM554 411h1v1h-1zM562 411h1v1h-1zM643 411h1v1h-1zM647 411h1v1h-1zM653 411h1v1h-1zM661 411h1v1h-1zM669 411h1v1h-1zM748 411h1v1h-1zM752 411h1v1h-1zM758 411h1v1h-1zM766 411h1v1h-1zM776 411h1v1h-1zM113 412h1v1h-1zM118 412h1v1h-1zM124 412h1v1h-1zM127 412h1v1h-1zM133 412h1v1h-1zM140 412h1v1h-1zM219 412h1v1h-1zM224 412h1v1h-1zM230 412h1v1h-1zM233 412h1v1h-1zM239 412h1v1h-1zM248 412h1v1h-1zM325 412h1v1h-1zM330 412h1v1h-1zM336 412h1v1h-1zM339 412h1v1h-1zM345 412h1v1h-1zM350 412h3v1h-3zM354 412h1v1h-1zM430 412h1v1h-1zM435 412h1v1h-1zM441 412h1v1h-1zM448 412h1v1h-1zM459 412h1v1h-1zM536 412h1v1h-1zM541 412h1v1h-1zM547 412h1v1h-1zM554 412h1v1h-1zM562 412h1v1h-1zM642 412h1v1h-1zM647 412h1v1h-1zM653 412h1v1h-1zM660 412h1v1h-1zM669 412h1v1h-1zM747 412h1v1h-1zM752 412h1v1h-1zM758 412h1v1h-1zM765 412h1v1h-1zM776 412h1v1h-1zM112 413h1v1h-1zM118 413h1v1h-1zM124 413h1v1h-1zM127 413h1v1h-1zM133 413h1v1h-1zM140 413h1v1h-1zM218 413h1v1h-1zM224 413h1v1h-1zM230 413h1v1h-1zM233 413h1v1h-1zM239 413h1v1h-1zM248 413h1v1h-1zM324 413h1v1h-1zM330 413h1v1h-1zM336 413h1v1h-1zM339 413h1v1h-1zM345 413h1v1h-1zM354 413h1v1h-1zM429 413h1v1h-1zM435 413h1v1h-1zM441 413h1v1h-1zM448 413h1v1h-1zM459 413h1v1h-1zM535 413h1v1h-1zM541 413h1v1h-1zM547 413h1v1h-1zM554 413h1v1h-1zM562 413h1v1h-1zM641 413h1v1h-1zM647 413h1v1h-1zM653 413h1v1h-1zM659 413h1v1h-1zM669 413h1v1h-1zM746 413h1v1h-1zM752 413h1v1h-1zM758 413h1v1h-1zM764 413h1v1h-1zM776 413h1v1h-1zM111 414h1v1h-1zM118 414h1v1h-1zM124 414h1v1h-1zM127 414h1v1h-1zM133 414h1v1h-1zM140 414h1v1h-1zM217 414h1v1h-1zM224 414h1v1h-1zM230 414h1v1h-1zM233 414h1v1h-1zM239 414h1v1h-1zM242 414h1v1h-1zM248 414h1v1h-1zM323 414h1v1h-1zM330 414h1v1h-1zM336 414h1v1h-1zM339 414h1v1h-1zM345 414h1v1h-1zM348 414h1v1h-1zM354 414h1v1h-1zM428 414h1v1h-1zM435 414h1v1h-1zM441 414h1v1h-1zM448 414h1v1h-1zM453 414h1v1h-1zM459 414h1v1h-1zM534 414h1v1h-1zM541 414h1v1h-1zM547 414h1v1h-1zM554 414h1v1h-1zM561 414h1v1h-1zM640 414h1v1h-1zM647 414h1v1h-1zM653 414h1v1h-1zM658 414h1v1h-1zM669 414h1v1h-1zM745 414h1v1h-1zM752 414h1v1h-1zM758 414h1v1h-1zM763 414h1v1h-1zM770 414h1v1h-1zM776 414h1v1h-1zM110 415h1v1h-1zM119 415h1v1h-1zM123 415h1v1h-1zM128 415h1v1h-1zM132 415h1v1h-1zM140 415h1v1h-1zM216 415h1v1h-1zM225 415h1v1h-1zM229 415h1v1h-1zM234 415h1v1h-1zM238 415h1v1h-1zM243 415h1v1h-1zM247 415h1v1h-1zM322 415h1v1h-1zM331 415h1v1h-1zM335 415h1v1h-1zM340 415h1v1h-1zM344 415h1v1h-1zM349 415h1v1h-1zM353 415h1v1h-1zM427 415h1v1h-1zM436 415h1v1h-1zM440 415h1v1h-1zM448 415h1v1h-1zM454 415h1v1h-1zM458 415h1v1h-1zM533 415h1v1h-1zM542 415h1v1h-1zM546 415h1v1h-1zM554 415h1v1h-1zM561 415h1v1h-1zM639 415h1v1h-1zM648 415h1v1h-1zM652 415h1v1h-1zM657 415h1v1h-1zM669 415h1v1h-1zM744 415h1v1h-1zM753 415h1v1h-1zM757 415h1v1h-1zM762 415h1v1h-1zM771 415h1v1h-1zM775 415h1v1h-1zM109 416h7v1h-7zM120 416h3v1h-3zM129 416h3v1h-3zM140 416h1v1h-1zM215 416h7v1h-7zM226 416h3v1h-3zM235 416h3v1h-3zM244 416h3v1h-3zM321 416h7v1h-7zM332 416h3v1h-3zM341 416h3v1h-3zM349 416h4v1h-4zM426 416h7v1h-7zM437 416h3v1h-3zM448 416h1v1h-1zM455 416h3v1h-3zM532 416h7v1h-7zM543 416h3v1h-3zM554 416h1v1h-1zM561 416h1v1h-1zM638 416h7v1h-7zM649 416h3v1h-3zM656 416h7v1h-7zM669 416h1v1h-1zM743 416h7v1h-7zM754 416h3v1h-3zM761 416h7v1h-7zM772 416h3v1h-3zM427 432h7v1h-7zM449 432h1v1h-1zM427 433h9v1h-9zM448 433h2v1h-2zM427 434h2v1h-2zM434 434h2v1h-2zM448 434h2v1h-2zM427 435h2v1h-2zM435 435h2v1h-2zM440 435h5v1h-5zM447 435h5v1h-5zM456 435h3v1h-3zM427 436h2v1h-2zM435 436h2v1h-2zM439 436h7v1h-7zM447 436h5v1h-5zM455 436h5v1h-5zM427 437h2v1h-2zM435 437h2v1h-2zM439 437h2v1h-2zM444 437h2v1h-2zM448 437h2v1h-2zM454 437h2v1h-2zM459 437h2v1h-2zM427 438h2v1h-2zM435 438h2v1h-2zM441 438h5v1h-5zM448 438h2v1h-2zM454 438h7v1h-7zM427 439h2v1h-2zM435 439h2v1h-2zM440 439h6v1h-6zM448 439h2v1h-2zM454 439h7v1h-7zM427 440h2v1h-2zM435 440h2v1h-2zM439 440h2v1h-2zM444 440h2v1h-2zM448 440h2v1h-2zM454 440h2v1h-2zM427 441h2v1h-2zM434 441h2v1h-2zM439 441h2v1h-2zM444 441h2v1h-2zM448 441h2v1h-2zM454 441h3v1h-3zM459 441h2v1h-2zM427 442h9v1h-9zM439 442h7v1h-7zM448 442h4v1h-4zM455 442h5v1h-5zM427 443h7v1h-7zM440 443h4v1h-4zM445 443h2v1h-2zM449 443h3v1h-3zM456 443h3v1h-3z" fill="#000"/>
</svg>
<div class="t"><div class="yl" style="top:2.00px">20000</div><div class="yl" style="top:49.25px">15000</div><div class="yl" style="top:96.50px">10000</div><div class="yl" style="top:143.75px">5000</div><div class="yl" style="top:191.00px">0</div><div class="yl" style="top:238.25px">-5000</div><div class="yl" style="top:285.50px">-10000</div><div class="yl" style="top:332.75px">-15000</div><div class="yl" style="top:380.00px">-20000</div><div class="xl" style="left:95.50px">2001</div><div class="xl" style="left:201.17px">2005</div><div class="xl" style="left:306.84px">2009</div><div class="xl" style="left:412.50px">2013</div><div class="xl" style="left:518.17px">2017</div><div class="xl" style="left:623.84px">2021</div><div class="xl" style="left:729.51px">2025</div>
<div class="xt">Date</div>
<div class="yt">Net Profit</div></div>
</body></html>
